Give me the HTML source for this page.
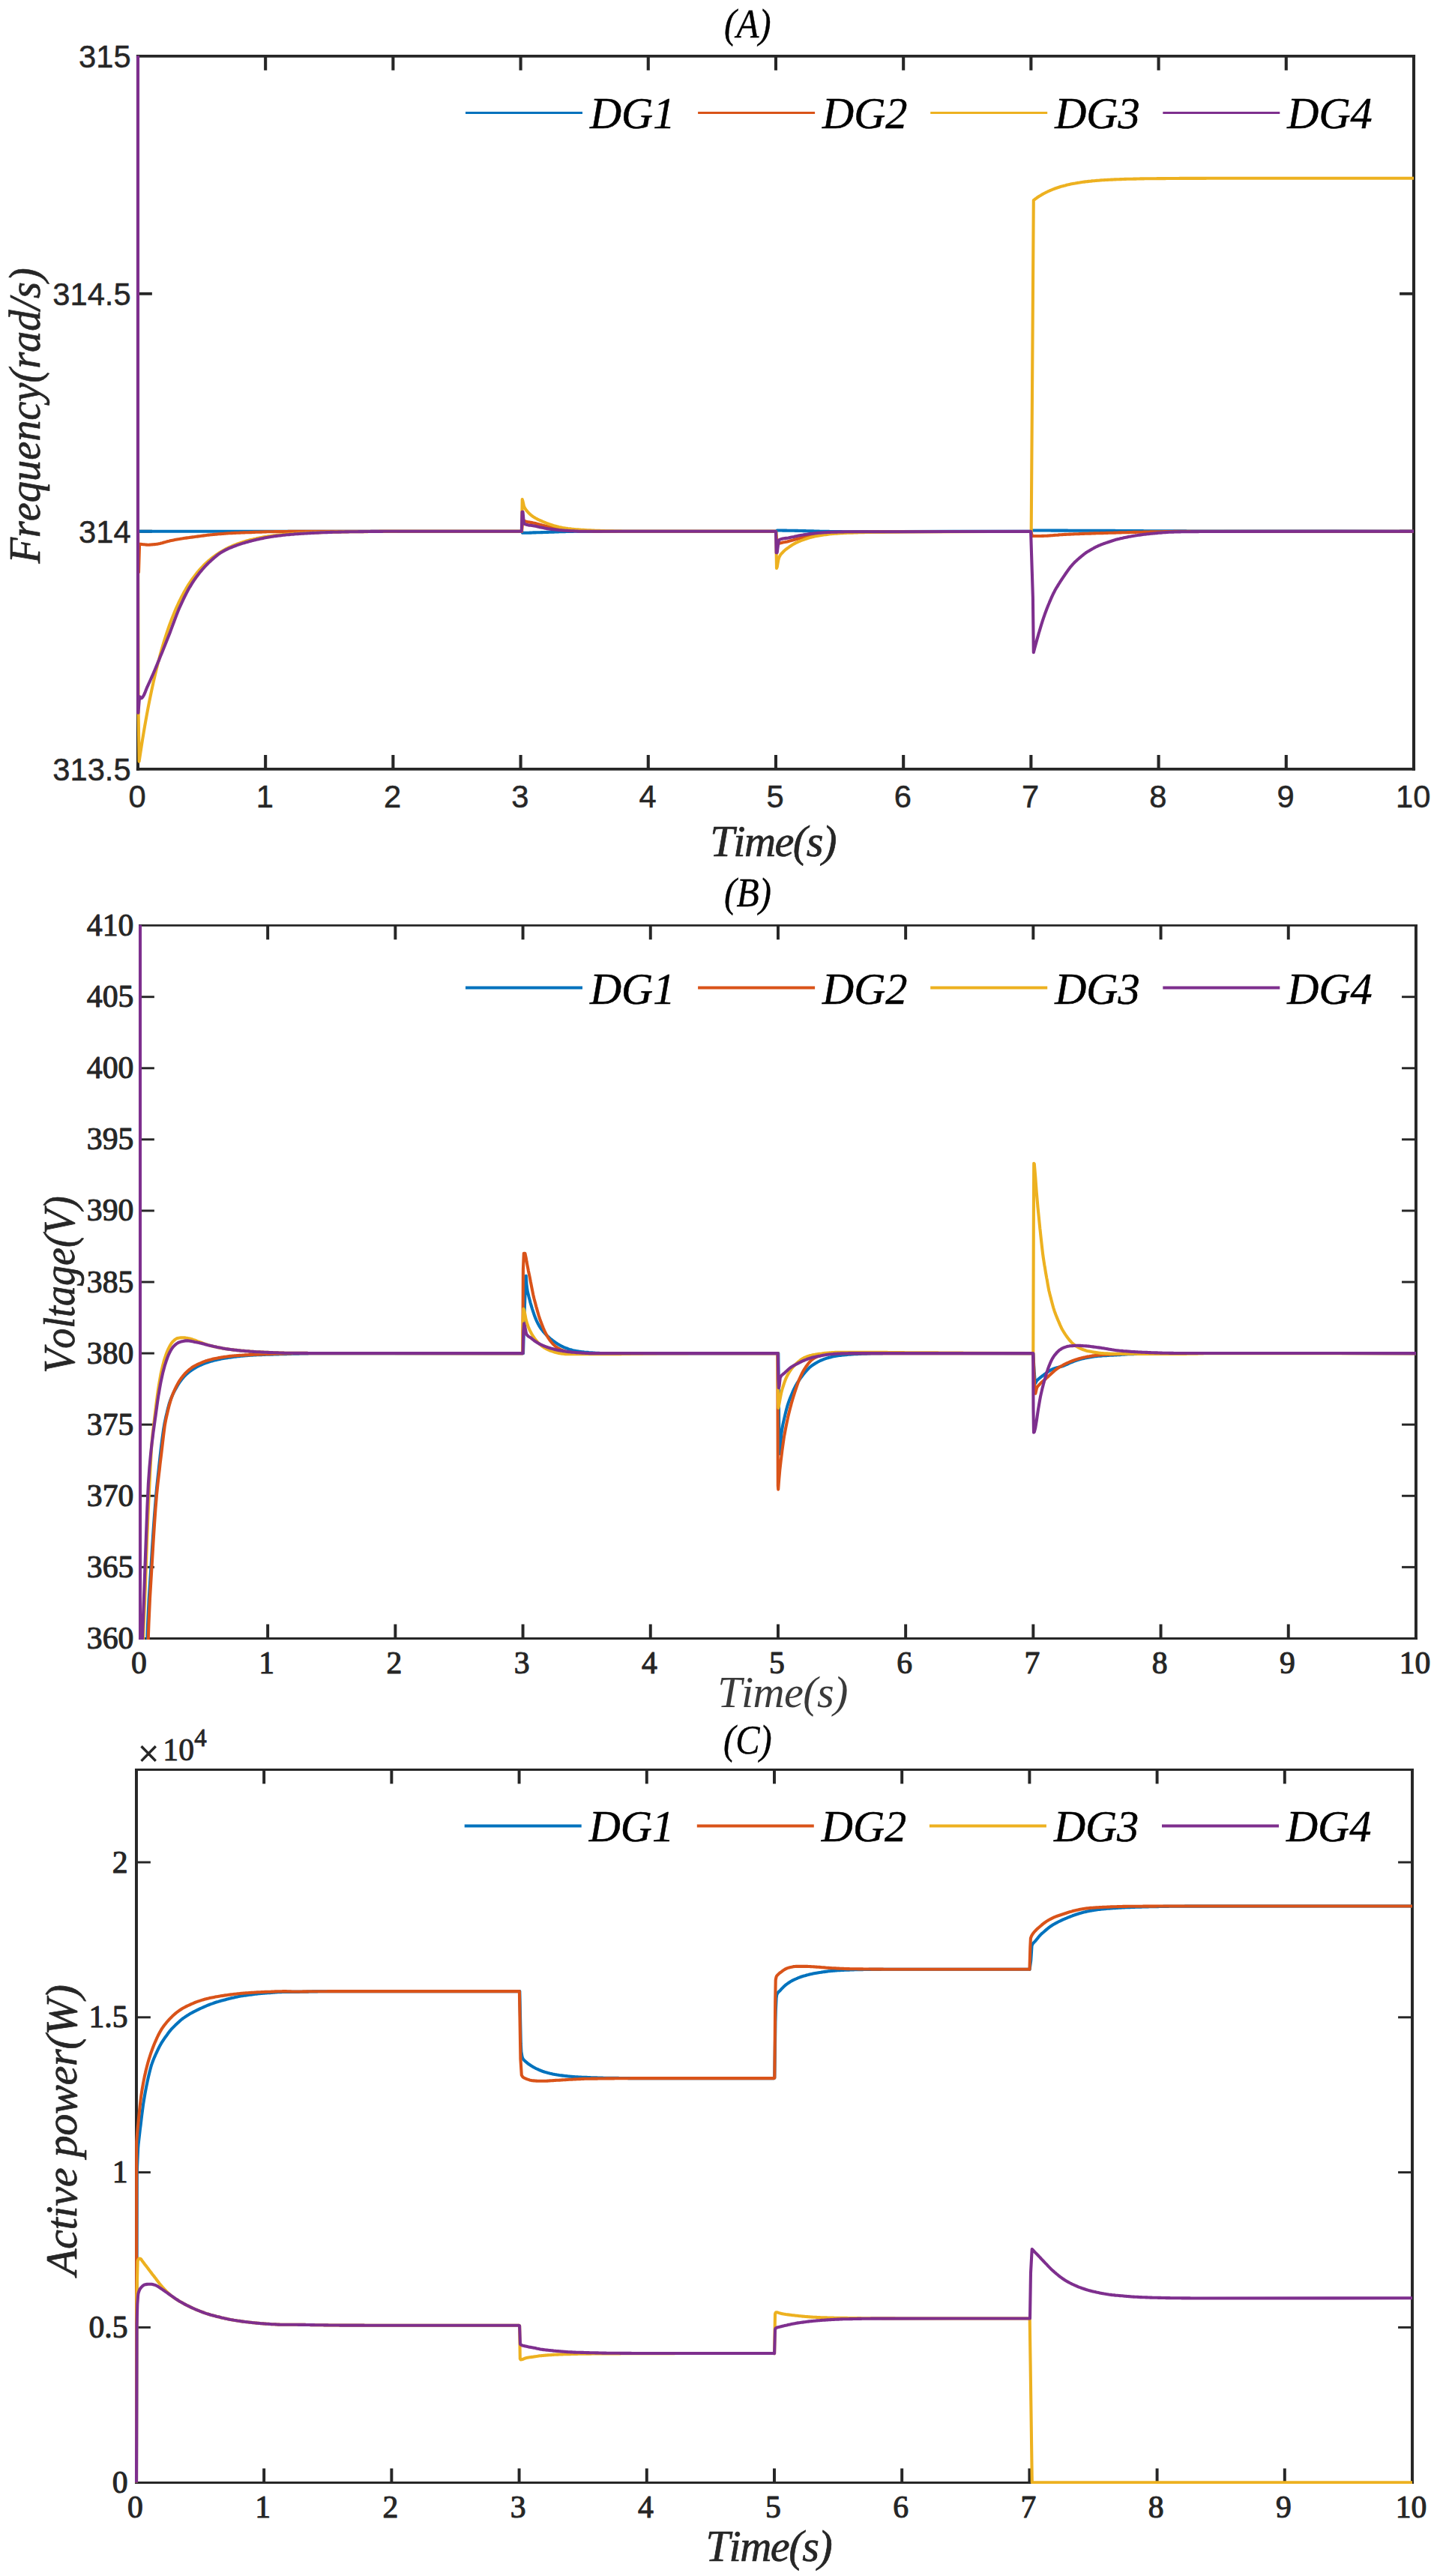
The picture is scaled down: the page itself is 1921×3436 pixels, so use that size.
<!DOCTYPE html>
<html><head><meta charset="utf-8"><title>Figure</title>
<style>html,body{margin:0;padding:0;background:#fff}svg{display:block}text{font-kerning:none}</style></head>
<body>
<svg width="1921" height="3436" viewBox="0 0 1921 3436">
<rect width="1921" height="3436" fill="#fff"/>
<defs>
<clipPath id="clipA"><rect x="181.9" y="74.3" width="1705.1" height="953.0"/></clipPath>
<clipPath id="clipB"><rect x="184.9" y="1233.8" width="1705.1" height="953.1"/></clipPath>
<clipPath id="clipC"><rect x="179.9" y="2359.8" width="1705.1" height="953.1"/></clipPath>
</defs>
<g stroke="#262626" stroke-width="4.1" fill="none"><line x1="354.16" y1="1025.87" x2="354.16" y2="1006.97"/><line x1="354.16" y1="74.90" x2="354.16" y2="93.80"/><line x1="524.37" y1="1025.87" x2="524.37" y2="1006.97"/><line x1="524.37" y1="74.90" x2="524.37" y2="93.80"/><line x1="694.57" y1="1025.87" x2="694.57" y2="1006.97"/><line x1="694.57" y1="74.90" x2="694.57" y2="93.80"/><line x1="864.77" y1="1025.87" x2="864.77" y2="1006.97"/><line x1="864.77" y1="74.90" x2="864.77" y2="93.80"/><line x1="1034.97" y1="1025.87" x2="1034.97" y2="1006.97"/><line x1="1034.97" y1="74.90" x2="1034.97" y2="93.80"/><line x1="1205.18" y1="1025.87" x2="1205.18" y2="1006.97"/><line x1="1205.18" y1="74.90" x2="1205.18" y2="93.80"/><line x1="1375.38" y1="1025.87" x2="1375.38" y2="1006.97"/><line x1="1375.38" y1="74.90" x2="1375.38" y2="93.80"/><line x1="1545.58" y1="1025.87" x2="1545.58" y2="1006.97"/><line x1="1545.58" y1="74.90" x2="1545.58" y2="93.80"/><line x1="1715.79" y1="1025.87" x2="1715.79" y2="1006.97"/><line x1="1715.79" y1="74.90" x2="1715.79" y2="93.80"/><line x1="183.96" y1="72.95" x2="183.96" y2="1027.82"/><line x1="1885.99" y1="72.95" x2="1885.99" y2="1027.82"/></g>
<g stroke="#262626" stroke-width="3.9" fill="none"><line x1="183.96" y1="391.80" x2="202.86" y2="391.80"/><line x1="1885.99" y1="391.80" x2="1867.09" y2="391.80"/><line x1="183.96" y1="708.70" x2="202.86" y2="708.70"/><line x1="1885.99" y1="708.70" x2="1867.09" y2="708.70"/><line x1="181.91" y1="74.90" x2="1888.04" y2="74.90"/><line x1="181.91" y1="1025.87" x2="1888.04" y2="1025.87"/></g>
<g font-family='"Liberation Sans", sans-serif' font-size="41.67" fill="#262626" stroke="#262626" stroke-width="0.5" stroke-linejoin="round"><text x="183.2" y="1076.5" text-anchor="middle">0</text><text x="353.4" y="1076.5" text-anchor="middle">1</text><text x="523.6" y="1076.5" text-anchor="middle">2</text><text x="693.8" y="1076.5" text-anchor="middle">3</text><text x="864.0" y="1076.5" text-anchor="middle">4</text><text x="1034.2" y="1076.5" text-anchor="middle">5</text><text x="1204.4" y="1076.5" text-anchor="middle">6</text><text x="1374.6" y="1076.5" text-anchor="middle">7</text><text x="1544.8" y="1076.5" text-anchor="middle">8</text><text x="1715.0" y="1076.5" text-anchor="middle">9</text><text x="1885.2" y="1076.5" text-anchor="middle">10</text><text x="174.6" y="89.9" text-anchor="end">315</text><text x="174.6" y="406.8" text-anchor="end">314.5</text><text x="174.6" y="723.7" text-anchor="end">314</text><text x="174.6" y="1040.6" text-anchor="end">313.5</text></g>
<g clip-path="url(#clipA)">
<path d="M184.0 708.7 L694.1 708.7 L696.2 708.8 L697.1 710.8 L697.8 710.8 L699.3 710.8 L700.8 710.8 L702.3 710.8 L703.8 710.7 L705.3 710.7 L706.9 710.6 L708.4 710.6 L709.9 710.5 L711.4 710.4 L712.5 710.4 L712.9 710.4 L714.4 710.4 L715.9 710.3 L717.5 710.3 L719.0 710.2 L720.5 710.2 L722.0 710.1 L723.5 710.1 L725.0 710.0 L726.5 710.0 L728.1 710.0 L729.6 709.9 L731.1 709.9 L732.6 709.8 L733.3 709.8 L734.1 709.8 L735.6 709.7 L737.1 709.7 L738.7 709.6 L740.2 709.5 L741.7 709.5 L743.2 709.4 L744.7 709.4 L746.2 709.3 L747.7 709.3 L749.3 709.2 L750.8 709.2 L752.3 709.1 L753.8 709.1 L755.3 709.0 L756.8 709.0 L758.3 709.0 L758.3 709.0 L759.9 708.9 L761.4 708.9 L762.9 708.9 L764.4 708.9 L765.9 708.8 L767.4 708.8 L768.9 708.8 L770.5 708.8 L772.0 708.8 L773.5 708.8 L775.0 708.8 L1034.5 708.7 L1035.4 709.2 L1036.7 707.5 L1036.9 707.5 L1038.4 707.5 L1039.9 707.5 L1041.4 707.5 L1042.9 707.5 L1044.4 707.6 L1045.9 707.6 L1047.4 707.6 L1048.9 707.6 L1050.4 707.7 L1051.9 707.7 L1052.5 707.7 L1053.4 707.7 L1054.9 707.7 L1056.4 707.8 L1057.9 707.8 L1059.4 707.8 L1060.9 707.9 L1062.4 707.9 L1063.9 707.9 L1065.4 708.0 L1066.9 708.0 L1068.4 708.0 L1069.9 708.0 L1071.4 708.1 L1072.9 708.1 L1073.3 708.1 L1074.4 708.1 L1075.9 708.2 L1077.4 708.2 L1078.9 708.3 L1080.4 708.3 L1081.9 708.3 L1083.4 708.4 L1084.9 708.4 L1086.4 708.5 L1087.9 708.5 L1089.4 708.6 L1090.9 708.6 L1092.4 708.6 L1093.9 708.7 L1095.4 708.7 L1096.9 708.8 L1098.4 708.8 L1099.9 708.8 L1101.4 708.9 L1102.9 708.9 L1104.4 708.9 L1105.9 708.9 L1106.7 709.0 L1107.4 709.0 L1108.9 709.0 L1110.4 709.0 L1111.9 709.0 L1113.4 709.1 L1114.9 709.1 L1116.4 709.1 L1117.9 709.1 L1119.4 709.1 L1120.9 709.1 L1122.4 709.1 L1123.9 709.2 L1125.4 709.2 L1374.9 708.7 L1375.6 708.6 L1376.7 707.5 L1377.1 707.5 L1378.6 707.5 L1380.1 707.5 L1381.6 707.5 L1383.1 707.5 L1384.6 707.5 L1386.1 707.5 L1387.6 707.5 L1389.1 707.5 L1390.6 707.5 L1392.1 707.5 L1393.6 707.5 L1395.2 707.5 L1396.7 707.5 L1398.2 707.5 L1399.7 707.5 L1401.2 707.5 L1402.7 707.6 L1404.2 707.6 L1405.7 707.6 L1407.2 707.6 L1408.7 707.6 L1410.2 707.6 L1411.7 707.6 L1413.2 707.6 L1414.7 707.6 L1416.3 707.6 L1417.8 707.6 L1419.3 707.6 L1420.8 707.6 L1422.3 707.6 L1423.8 707.6 L1425.3 707.7 L1426.8 707.7 L1428.3 707.7 L1429.8 707.7 L1431.3 707.7 L1432.8 707.7 L1434.3 707.7 L1435.9 707.7 L1437.4 707.7 L1438.9 707.7 L1440.4 707.7 L1441.9 707.7 L1443.4 707.7 L1444.9 707.8 L1446.4 707.8 L1447.9 707.8 L1449.4 707.8 L1450.9 707.8 L1451.1 707.8 L1452.4 707.8 L1453.9 707.8 L1455.4 707.8 L1457.0 707.8 L1458.5 707.8 L1460.0 707.8 L1461.5 707.8 L1463.0 707.8 L1464.5 707.8 L1466.0 707.8 L1467.5 707.9 L1469.0 707.9 L1470.5 707.9 L1472.0 707.9 L1473.5 707.9 L1475.0 707.9 L1476.6 707.9 L1478.1 707.9 L1479.6 707.9 L1481.1 707.9 L1482.6 707.9 L1484.1 707.9 L1485.6 707.9 L1487.1 707.9 L1488.6 708.0 L1490.1 708.0 L1491.6 708.0 L1493.1 708.0 L1494.6 708.0 L1496.2 708.0 L1497.7 708.0 L1499.2 708.0 L1500.7 708.0 L1502.2 708.0 L1503.7 708.0 L1505.2 708.0 L1506.7 708.0 L1508.2 708.1 L1509.7 708.1 L1511.2 708.1 L1512.7 708.1 L1514.2 708.1 L1515.7 708.1 L1517.3 708.1 L1518.8 708.1 L1520.3 708.1 L1521.8 708.1 L1523.3 708.1 L1524.8 708.1 L1526.3 708.2 L1527.8 708.2 L1529.3 708.2 L1530.8 708.2 L1532.3 708.2 L1533.8 708.2 L1534.4 708.2 L1535.3 708.2 L1536.9 708.2 L1538.4 708.2 L1539.9 708.2 L1541.4 708.2 L1542.9 708.2 L1544.4 708.2 L1545.9 708.3 L1547.4 708.3 L1548.9 708.3 L1550.4 708.3 L1551.9 708.3 L1553.4 708.3 L1554.9 708.3 L1556.4 708.3 L1558.0 708.3 L1559.5 708.3 L1561.0 708.3 L1562.5 708.3 L1564.0 708.3 L1565.5 708.4 L1567.0 708.4 L1568.5 708.4 L1570.0 708.4 L1571.5 708.4 L1573.0 708.4 L1574.5 708.4 L1576.0 708.4 L1577.6 708.4 L1579.1 708.4 L1580.6 708.4 L1582.1 708.4 L1583.6 708.5 L1585.1 708.5 L1586.6 708.5 L1588.1 708.5 L1589.6 708.5 L1591.1 708.5 L1592.6 708.5 L1594.1 708.5 L1595.6 708.5 L1597.1 708.5 L1598.7 708.5 L1600.2 708.5 L1601.7 708.6 L1603.2 708.6 L1604.7 708.6 L1606.2 708.6 L1607.7 708.6 L1609.2 708.6 L1610.7 708.6 L1612.2 708.6 L1886.0 708.7" fill="none" stroke="#0072BD" stroke-width="4.1" stroke-linejoin="round" />
<path d="M184.0 708.7 L184.5 763.0 L185.0 763.3 L186.1 725.8 L186.5 725.8 L188.0 725.9 L189.5 726.0 L191.0 726.2 L192.5 726.3 L194.0 726.5 L195.5 726.6 L197.0 726.7 L197.8 726.7 L198.5 726.7 L200.0 726.6 L201.5 726.5 L203.0 726.4 L204.5 726.3 L206.0 726.1 L207.5 726.0 L208.9 725.8 L209.0 725.8 L210.5 725.6 L212.0 725.3 L213.5 725.0 L215.0 724.6 L216.5 724.2 L218.0 723.7 L219.5 723.3 L221.0 722.9 L222.5 722.4 L224.0 722.0 L225.5 721.7 L225.6 721.7 L227.0 721.3 L228.5 721.0 L230.0 720.7 L231.5 720.4 L233.1 720.1 L234.6 719.8 L236.1 719.5 L237.6 719.2 L239.1 719.0 L239.4 718.9 L240.6 718.7 L242.1 718.5 L243.6 718.3 L245.1 718.0 L246.6 717.8 L248.1 717.6 L249.6 717.4 L251.1 717.2 L252.6 717.0 L253.3 716.9 L254.1 716.8 L255.6 716.6 L257.1 716.4 L258.6 716.2 L260.1 716.0 L261.6 715.8 L263.1 715.6 L264.6 715.4 L266.1 715.2 L267.6 715.0 L269.1 714.8 L270.6 714.6 L272.1 714.4 L273.6 714.2 L275.1 714.0 L276.6 713.8 L278.1 713.6 L279.6 713.5 L281.1 713.3 L281.1 713.3 L282.6 713.2 L284.1 713.0 L285.6 712.9 L287.1 712.8 L288.6 712.6 L290.1 712.5 L291.6 712.3 L293.1 712.2 L294.6 712.1 L296.1 712.0 L297.6 711.9 L299.1 711.7 L300.6 711.6 L302.1 711.5 L303.6 711.4 L305.1 711.3 L306.6 711.2 L308.1 711.2 L308.9 711.1 L309.6 711.1 L311.1 711.0 L312.6 710.9 L314.1 710.9 L315.6 710.8 L317.1 710.7 L318.6 710.7 L320.1 710.6 L321.6 710.5 L323.1 710.5 L324.6 710.4 L326.1 710.4 L327.7 710.3 L329.2 710.3 L330.7 710.2 L332.2 710.2 L333.7 710.1 L335.2 710.1 L336.7 710.0 L336.7 710.0 L338.2 709.9 L339.7 709.9 L341.2 709.8 L342.7 709.8 L344.2 709.7 L345.7 709.7 L347.2 709.6 L348.7 709.6 L350.2 709.5 L351.7 709.5 L353.2 709.4 L354.7 709.4 L356.2 709.3 L357.7 709.3 L359.2 709.3 L360.7 709.2 L362.2 709.2 L363.7 709.2 L364.4 709.2 L365.2 709.2 L366.7 709.1 L368.2 709.1 L369.7 709.1 L371.2 709.1 L372.7 709.1 L374.2 709.0 L375.7 709.0 L377.2 709.0 L378.7 709.0 L380.2 709.0 L381.7 709.0 L383.2 709.0 L384.7 708.9 L386.2 708.9 L387.7 708.9 L389.2 708.9 L390.7 708.9 L392.2 708.9 L392.2 708.9 L393.7 708.9 L395.2 708.9 L396.7 708.9 L398.2 708.9 L399.7 708.8 L401.2 708.8 L402.7 708.8 L404.2 708.8 L405.7 708.8 L407.2 708.8 L408.7 708.8 L410.2 708.8 L411.7 708.8 L413.2 708.8 L414.7 708.8 L416.2 708.8 L417.7 708.7 L419.2 708.7 L420.7 708.7 L422.3 708.7 L423.8 708.7 L425.3 708.7 L426.8 708.7 L428.3 708.7 L429.8 708.7 L431.3 708.7 L432.8 708.7 L434.3 708.7 L435.8 708.7 L437.3 708.7 L438.8 708.7 L440.3 708.7 L441.8 708.7 L443.3 708.7 L444.8 708.7 L446.3 708.7 L447.8 708.7 L694.1 708.7 L696.0 708.8 L697.5 693.1 L697.6 693.1 L699.0 694.6 L699.1 694.6 L700.6 695.2 L702.1 695.7 L703.6 696.1 L705.1 696.4 L706.6 696.6 L708.1 696.9 L709.6 697.1 L711.1 697.4 L712.5 697.7 L712.6 697.7 L714.2 698.1 L715.7 698.5 L717.2 698.9 L718.7 699.3 L720.2 699.7 L721.7 700.1 L722.9 700.4 L723.2 700.5 L724.7 700.9 L726.2 701.3 L727.7 701.7 L729.3 702.1 L730.8 702.5 L732.3 702.9 L733.3 703.1 L733.8 703.2 L735.3 703.5 L736.8 703.8 L738.3 704.1 L739.8 704.3 L741.3 704.6 L742.8 704.8 L743.8 705.0 L744.4 705.1 L745.9 705.4 L747.4 705.6 L748.9 705.9 L750.4 706.2 L751.9 706.4 L753.4 706.6 L754.2 706.7 L754.9 706.7 L756.4 706.9 L757.9 707.0 L759.4 707.2 L761.0 707.3 L762.5 707.4 L764.0 707.5 L765.5 707.6 L767.0 707.7 L768.5 707.8 L770.0 707.9 L771.5 708.0 L773.0 708.1 L774.5 708.1 L775.0 708.1 L776.1 708.2 L777.6 708.2 L779.1 708.3 L780.6 708.3 L782.1 708.3 L783.6 708.4 L785.1 708.4 L786.6 708.5 L788.1 708.5 L789.6 708.5 L791.2 708.6 L792.7 708.6 L794.2 708.6 L795.7 708.7 L797.2 708.7 L798.7 708.7 L800.2 708.7 L801.7 708.7 L803.2 708.7 L804.7 708.7 L806.2 708.7 L1034.5 708.7 L1035.2 709.2 L1036.7 726.2 L1036.7 726.2 L1038.2 725.4 L1039.0 725.0 L1039.7 724.7 L1041.3 724.3 L1042.8 723.9 L1044.3 723.5 L1045.8 723.2 L1047.3 723.0 L1048.8 722.7 L1050.3 722.4 L1051.9 722.0 L1052.5 721.9 L1053.4 721.6 L1054.9 721.2 L1056.4 720.8 L1057.9 720.4 L1059.4 719.9 L1060.9 719.5 L1062.5 719.1 L1062.9 719.0 L1064.0 718.7 L1065.5 718.3 L1067.0 717.9 L1068.5 717.5 L1070.0 717.1 L1071.5 716.7 L1073.1 716.3 L1073.3 716.2 L1074.6 715.9 L1076.1 715.6 L1077.6 715.2 L1079.1 714.8 L1080.6 714.4 L1082.1 714.1 L1083.6 713.8 L1083.8 713.8 L1085.2 713.5 L1086.7 713.2 L1088.2 712.9 L1089.7 712.7 L1091.2 712.5 L1092.7 712.3 L1094.2 712.1 L1094.2 712.1 L1095.8 711.9 L1097.3 711.7 L1098.8 711.6 L1100.3 711.4 L1101.8 711.3 L1103.3 711.2 L1104.8 711.0 L1106.4 710.9 L1107.9 710.8 L1109.4 710.7 L1110.9 710.6 L1112.4 710.5 L1113.9 710.5 L1115.0 710.4 L1115.4 710.4 L1117.0 710.4 L1118.5 710.3 L1120.0 710.3 L1121.5 710.2 L1123.0 710.2 L1124.5 710.1 L1126.0 710.1 L1127.5 710.1 L1129.1 710.0 L1130.6 710.0 L1132.1 709.9 L1133.6 709.9 L1135.1 709.9 L1136.6 709.8 L1138.1 709.8 L1139.7 709.8 L1141.2 709.7 L1142.7 709.7 L1144.2 709.7 L1145.7 709.7 L1147.2 709.6 L1148.7 709.6 L1150.3 709.6 L1151.8 709.6 L1153.3 709.5 L1154.8 709.5 L1156.3 709.5 L1157.8 709.5 L1159.3 709.5 L1160.8 709.5 L1162.4 709.4 L1163.9 709.4 L1165.4 709.4 L1166.9 709.4 L1168.4 709.4 L1169.9 709.4 L1171.4 709.4 L1173.0 709.4 L1174.5 709.4 L1176.0 709.4 L1177.5 709.4 L1374.9 708.7 L1375.3 708.6 L1376.8 714.5 L1377.2 715.0 L1378.3 715.0 L1379.8 715.0 L1381.3 715.0 L1382.8 715.0 L1384.3 715.0 L1385.8 715.0 L1385.8 715.0 L1387.3 715.0 L1388.8 715.0 L1390.3 714.9 L1391.8 714.9 L1393.3 714.8 L1394.8 714.8 L1396.3 714.7 L1397.8 714.6 L1399.3 714.5 L1400.8 714.4 L1402.3 714.3 L1403.8 714.2 L1405.3 714.0 L1406.8 713.9 L1408.3 713.8 L1409.8 713.7 L1411.3 713.6 L1412.8 713.4 L1414.3 713.3 L1415.8 713.2 L1417.3 713.1 L1418.8 713.0 L1420.3 712.9 L1421.8 712.9 L1423.3 712.8 L1423.3 712.8 L1424.8 712.7 L1426.3 712.6 L1427.8 712.6 L1429.3 712.5 L1430.8 712.5 L1432.3 712.4 L1433.8 712.3 L1435.3 712.3 L1436.8 712.2 L1438.3 712.2 L1439.8 712.1 L1441.3 712.0 L1442.8 712.0 L1444.3 711.9 L1445.9 711.9 L1447.4 711.8 L1448.9 711.8 L1450.4 711.7 L1451.9 711.7 L1453.4 711.6 L1454.9 711.6 L1456.4 711.5 L1457.9 711.5 L1459.4 711.4 L1460.9 711.4 L1462.4 711.3 L1463.9 711.3 L1465.4 711.2 L1466.9 711.2 L1468.4 711.1 L1469.9 711.1 L1471.4 711.1 L1472.9 711.0 L1474.4 711.0 L1475.9 710.9 L1477.4 710.9 L1478.9 710.8 L1478.9 710.8 L1480.4 710.8 L1481.9 710.7 L1483.4 710.7 L1484.9 710.7 L1486.4 710.6 L1487.9 710.6 L1489.4 710.5 L1490.9 710.5 L1492.4 710.4 L1493.9 710.4 L1495.4 710.4 L1496.9 710.3 L1498.4 710.3 L1499.9 710.2 L1501.4 710.2 L1502.9 710.2 L1504.4 710.1 L1505.9 710.1 L1507.4 710.0 L1508.9 710.0 L1510.4 710.0 L1511.9 709.9 L1513.4 709.9 L1514.9 709.9 L1516.4 709.8 L1517.9 709.8 L1519.4 709.8 L1520.9 709.7 L1522.4 709.7 L1523.9 709.7 L1525.4 709.6 L1526.9 709.6 L1528.4 709.6 L1529.9 709.5 L1531.4 709.5 L1532.9 709.5 L1534.4 709.4 L1534.4 709.4 L1535.9 709.4 L1537.4 709.4 L1538.9 709.4 L1540.4 709.3 L1542.0 709.3 L1543.5 709.3 L1545.0 709.3 L1546.5 709.2 L1548.0 709.2 L1549.5 709.2 L1551.0 709.2 L1552.5 709.1 L1554.0 709.1 L1555.5 709.1 L1557.0 709.1 L1558.5 709.0 L1560.0 709.0 L1561.5 709.0 L1563.0 709.0 L1564.5 709.0 L1566.0 708.9 L1567.5 708.9 L1569.0 708.9 L1570.5 708.9 L1572.0 708.9 L1573.5 708.8 L1575.0 708.8 L1576.5 708.8 L1578.0 708.8 L1579.5 708.8 L1581.0 708.8 L1582.5 708.7 L1584.0 708.7 L1585.5 708.7 L1587.0 708.7 L1588.5 708.7 L1590.0 708.7 L1886.0 708.7" fill="none" stroke="#D95319" stroke-width="4.1" stroke-linejoin="round" />
<path d="M184.0 708.7 L184.6 950.0 L185.6 1014.7 L185.6 1015.6 L187.1 1005.6 L188.6 995.9 L190.1 986.5 L191.6 977.4 L193.1 968.6 L194.6 960.1 L196.1 951.9 L197.6 943.9 L199.1 936.2 L200.6 928.8 L202.1 921.6 L203.6 914.6 L205.1 907.9 L206.6 901.4 L208.1 895.1 L209.6 889.0 L211.1 883.1 L212.6 877.4 L214.1 871.9 L215.6 866.5 L217.1 861.4 L218.6 856.4 L220.1 851.5 L221.6 846.9 L223.1 842.3 L224.6 838.0 L226.1 833.7 L227.6 829.6 L229.1 825.7 L230.6 821.9 L232.1 818.2 L233.6 814.6 L235.1 811.1 L236.6 807.8 L238.1 804.5 L239.6 801.4 L241.1 798.4 L242.6 795.4 L244.1 792.6 L245.6 789.8 L247.1 787.2 L248.6 784.6 L250.1 782.1 L251.6 779.7 L253.1 777.4 L254.6 775.2 L256.1 773.0 L257.6 770.9 L259.1 768.9 L260.6 766.9 L262.1 765.0 L263.6 763.1 L265.1 761.4 L266.6 759.6 L268.1 758.0 L269.6 756.4 L271.1 754.8 L272.6 753.3 L274.1 751.8 L275.6 750.4 L277.1 749.1 L278.6 747.7 L280.1 746.5 L281.6 745.2 L283.1 744.0 L284.6 742.9 L286.1 741.8 L287.6 740.7 L289.1 739.6 L290.6 738.6 L292.1 737.6 L293.6 736.7 L295.1 735.8 L296.6 734.9 L298.1 734.0 L299.6 733.2 L301.1 732.4 L302.6 731.6 L304.1 730.9 L305.6 730.2 L307.1 729.4 L308.6 728.8 L310.1 728.1 L311.6 727.5 L313.1 726.9 L314.6 726.3 L316.1 725.7 L317.6 725.1 L319.1 724.6 L320.6 724.1 L322.1 723.6 L323.6 723.1 L325.1 722.6 L326.6 722.2 L328.1 721.7 L329.6 721.3 L331.1 720.9 L332.6 720.5 L334.1 720.1 L335.6 719.7 L337.1 719.4 L338.6 719.0 L340.1 718.7 L341.6 718.4 L343.1 718.0 L344.6 717.7 L346.1 717.4 L347.6 717.2 L349.1 716.9 L350.6 716.6 L352.1 716.3 L353.6 716.1 L355.1 715.9 L356.6 715.6 L358.1 715.4 L359.6 715.2 L361.1 715.0 L362.6 714.8 L364.1 714.6 L365.6 714.4 L367.1 714.2 L368.6 714.0 L370.1 713.8 L371.6 713.7 L373.1 713.5 L374.6 713.3 L376.1 713.2 L377.6 713.0 L379.1 712.9 L380.6 712.8 L382.1 712.6 L383.6 712.5 L385.1 712.4 L386.6 712.3 L388.1 712.1 L389.6 712.0 L391.1 711.9 L392.6 711.8 L394.1 711.7 L395.6 711.6 L397.1 711.5 L398.6 711.4 L400.1 711.3 L401.6 711.3 L403.1 711.2 L404.6 711.1 L406.1 711.0 L407.6 710.9 L409.1 710.9 L410.6 710.8 L412.1 710.7 L413.6 710.7 L415.1 710.6 L416.6 710.5 L418.1 710.5 L419.6 710.4 L421.1 710.4 L422.6 710.3 L424.1 710.2 L425.6 710.2 L427.1 710.1 L428.6 710.1 L430.1 710.1 L431.6 710.0 L433.1 710.0 L434.6 709.9 L436.1 709.9 L437.6 709.8 L439.1 709.8 L440.6 709.8 L442.1 709.7 L443.6 709.7 L445.1 709.7 L446.6 709.6 L448.1 709.6 L449.6 709.6 L451.1 709.6 L452.6 709.5 L454.1 709.5 L455.6 709.5 L457.1 709.4 L458.6 709.4 L460.1 709.4 L461.6 709.4 L463.1 709.4 L464.6 709.3 L466.1 709.3 L467.6 709.3 L469.1 709.3 L470.6 709.3 L472.1 709.2 L473.6 709.2 L475.1 709.2 L476.6 709.2 L478.1 709.2 L479.6 709.2 L481.1 709.1 L482.6 709.1 L484.1 709.1 L485.6 709.1 L487.1 709.1 L488.6 709.1 L490.1 709.1 L491.6 709.0 L493.1 709.0 L494.6 709.0 L496.1 709.0 L497.6 709.0 L499.1 709.0 L500.6 709.0 L502.1 709.0 L503.6 709.0 L505.1 709.0 L506.6 708.9 L508.1 708.9 L509.6 708.9 L511.1 708.9 L512.6 708.9 L514.1 708.9 L515.6 708.9 L517.1 708.9 L518.6 708.9 L520.1 708.9 L521.6 708.9 L523.1 708.9 L524.6 708.9 L526.1 708.9 L527.6 708.9 L529.1 708.9 L530.6 708.8 L532.1 708.8 L533.6 708.8 L535.1 708.8 L536.6 708.8 L538.1 708.8 L539.6 708.8 L541.1 708.8 L542.6 708.8 L544.1 708.8 L545.6 708.8 L547.1 708.8 L548.6 708.8 L550.1 708.8 L551.6 708.8 L553.1 708.8 L554.6 708.8 L556.1 708.8 L557.6 708.8 L559.1 708.8 L560.6 708.8 L562.1 708.8 L563.6 708.8 L565.1 708.8 L566.6 708.8 L568.1 708.8 L569.6 708.8 L571.1 708.8 L572.6 708.8 L574.1 708.8 L575.6 708.8 L577.1 708.8 L578.6 708.8 L580.1 708.7 L581.6 708.7 L583.1 708.7 L584.6 708.7 L586.1 708.7 L587.6 708.7 L589.1 708.7 L590.6 708.7 L592.1 708.7 L593.6 708.7 L595.1 708.7 L596.6 708.7 L598.1 708.7 L599.6 708.7 L601.1 708.7 L602.6 708.7 L604.1 708.7 L605.6 708.7 L607.1 708.7 L608.6 708.7 L610.1 708.7 L611.6 708.7 L613.1 708.7 L614.6 708.7 L616.1 708.7 L617.6 708.7 L619.1 708.7 L620.6 708.7 L622.1 708.7 L623.6 708.7 L625.1 708.7 L626.6 708.7 L628.1 708.7 L629.6 708.7 L631.1 708.7 L632.6 708.7 L634.1 708.7 L635.6 708.7 L637.1 708.7 L638.6 708.7 L640.1 708.7 L641.6 708.7 L643.1 708.7 L644.6 708.7 L646.1 708.7 L647.6 708.7 L649.1 708.7 L650.6 708.7 L652.1 708.7 L653.6 708.7 L655.1 708.7 L656.6 708.7 L658.1 708.7 L659.6 708.7 L661.1 708.7 L662.6 708.7 L664.1 708.7 L665.6 708.7 L667.1 708.7 L668.6 708.7 L670.1 708.7 L671.6 708.7 L673.1 708.7 L674.6 708.7 L676.1 708.7 L677.6 708.7 L679.1 708.7 L680.6 708.7 L682.1 708.7 L683.6 708.7 L685.1 708.7 L686.6 708.7 L688.1 708.7 L689.6 708.7 L691.1 708.7 L692.6 708.7 L694.1 708.7 L696.0 708.8 L696.7 666.0 L697.5 668.6 L699.0 675.4 L699.1 675.6 L700.6 678.5 L702.1 680.6 L702.1 680.6 L703.6 682.4 L705.1 684.0 L706.6 685.4 L708.1 686.8 L709.6 688.0 L711.1 689.1 L712.5 690.0 L712.6 690.1 L714.1 691.0 L715.6 691.8 L717.1 692.6 L718.6 693.3 L720.1 694.0 L721.6 694.6 L722.9 695.2 L723.1 695.3 L724.6 696.0 L726.1 696.6 L727.6 697.2 L729.1 697.8 L730.7 698.4 L732.2 699.0 L733.3 699.4 L733.7 699.5 L735.2 700.0 L736.7 700.5 L738.2 701.0 L739.7 701.4 L741.2 701.8 L742.7 702.2 L743.8 702.5 L744.2 702.6 L745.7 703.0 L747.2 703.3 L748.7 703.6 L750.2 703.9 L751.7 704.2 L753.2 704.4 L754.2 704.6 L754.7 704.7 L756.2 704.9 L757.7 705.1 L759.2 705.2 L760.8 705.4 L762.3 705.6 L763.8 705.7 L765.3 705.9 L766.8 706.0 L768.3 706.2 L769.8 706.3 L771.3 706.4 L772.8 706.5 L774.3 706.6 L775.0 706.7 L775.8 706.7 L777.3 706.8 L778.8 706.9 L780.3 707.0 L781.8 707.1 L783.3 707.2 L784.8 707.3 L786.3 707.3 L787.8 707.4 L789.3 707.5 L790.8 707.6 L792.4 707.6 L793.9 707.7 L795.4 707.7 L796.9 707.8 L798.4 707.9 L799.9 707.9 L801.4 708.0 L802.9 708.0 L804.4 708.1 L805.9 708.1 L806.2 708.1 L807.4 708.2 L808.9 708.2 L810.4 708.2 L811.9 708.3 L813.4 708.3 L814.9 708.4 L816.4 708.4 L817.9 708.4 L819.4 708.5 L820.9 708.5 L822.5 708.5 L824.0 708.6 L825.5 708.6 L827.0 708.6 L828.5 708.6 L830.0 708.7 L831.5 708.7 L833.0 708.7 L834.5 708.7 L836.0 708.7 L837.5 708.8 L1034.5 708.7 L1035.2 709.2 L1036.0 757.9 L1036.7 756.4 L1038.2 747.5 L1039.0 744.4 L1039.7 742.7 L1041.2 740.1 L1042.7 738.2 L1044.2 736.7 L1044.3 736.6 L1045.8 735.0 L1047.3 733.7 L1048.8 732.5 L1050.3 731.4 L1051.8 730.3 L1052.5 729.8 L1053.3 729.2 L1054.8 728.2 L1056.3 727.2 L1057.8 726.3 L1059.3 725.4 L1060.8 724.6 L1062.3 723.8 L1062.9 723.5 L1063.9 723.1 L1065.4 722.4 L1066.9 721.8 L1068.4 721.2 L1069.9 720.6 L1071.4 720.1 L1072.9 719.5 L1073.3 719.4 L1074.4 719.0 L1075.9 718.5 L1077.4 718.0 L1078.9 717.6 L1080.4 717.1 L1082.0 716.7 L1083.5 716.3 L1083.8 716.2 L1085.0 716.0 L1086.5 715.6 L1088.0 715.3 L1089.5 715.0 L1091.0 714.7 L1092.5 714.4 L1094.0 714.2 L1094.2 714.2 L1095.5 714.0 L1097.0 713.7 L1098.5 713.5 L1100.0 713.3 L1101.6 713.1 L1103.1 712.9 L1104.6 712.7 L1106.1 712.5 L1107.6 712.3 L1109.1 712.2 L1110.6 712.0 L1112.1 711.9 L1113.6 711.8 L1115.0 711.7 L1115.1 711.7 L1116.6 711.6 L1118.1 711.5 L1119.6 711.4 L1121.2 711.3 L1122.7 711.2 L1124.2 711.1 L1125.7 711.0 L1127.2 711.0 L1128.7 710.9 L1130.2 710.8 L1131.7 710.8 L1133.2 710.7 L1134.7 710.7 L1135.8 710.6 L1136.2 710.6 L1137.7 710.6 L1139.3 710.5 L1140.8 710.5 L1142.3 710.4 L1143.8 710.4 L1145.3 710.3 L1146.8 710.3 L1148.3 710.2 L1149.8 710.2 L1151.3 710.1 L1152.8 710.1 L1154.3 710.0 L1155.8 710.0 L1157.3 710.0 L1158.9 709.9 L1160.4 709.9 L1161.9 709.9 L1163.4 709.8 L1164.9 709.8 L1166.4 709.8 L1167.9 709.7 L1169.4 709.7 L1170.9 709.7 L1172.4 709.7 L1173.9 709.6 L1175.4 709.6 L1176.9 709.6 L1177.5 709.6 L1178.5 709.6 L1180.0 709.6 L1181.5 709.5 L1183.0 709.5 L1184.5 709.5 L1186.0 709.5 L1187.5 709.5 L1189.0 709.5 L1190.5 709.4 L1192.0 709.4 L1193.5 709.4 L1195.0 709.4 L1196.5 709.4 L1198.1 709.4 L1199.6 709.4 L1201.1 709.3 L1202.6 709.3 L1204.1 709.3 L1205.6 709.3 L1207.1 709.3 L1208.6 709.3 L1210.1 709.3 L1211.6 709.3 L1213.1 709.3 L1214.6 709.3 L1216.2 709.3 L1217.7 709.3 L1219.2 709.3 L1375.1 708.7 L1375.7 708.7 L1378.8 267.2 L1378.8 267.2 L1380.3 266.0 L1381.8 264.9 L1383.3 263.8 L1384.8 262.8 L1386.3 261.8 L1387.8 260.9 L1389.3 260.0 L1390.8 259.1 L1392.3 258.3 L1393.8 257.5 L1395.3 256.7 L1396.8 256.0 L1398.3 255.2 L1399.8 254.6 L1401.3 253.9 L1402.8 253.3 L1404.3 252.7 L1405.8 252.1 L1407.3 251.5 L1408.8 251.0 L1410.3 250.5 L1411.8 250.0 L1413.3 249.5 L1414.8 249.0 L1416.3 248.6 L1417.8 248.2 L1419.3 247.7 L1420.8 247.4 L1422.3 247.0 L1423.8 246.6 L1425.3 246.3 L1426.8 245.9 L1428.3 245.6 L1429.8 245.3 L1431.3 245.0 L1432.8 244.7 L1434.3 244.5 L1435.8 244.2 L1437.3 243.9 L1438.8 243.7 L1440.3 243.5 L1441.8 243.2 L1443.3 243.0 L1444.8 242.8 L1446.3 242.6 L1447.8 242.4 L1449.3 242.3 L1450.8 242.1 L1452.3 241.9 L1453.8 241.7 L1455.3 241.6 L1456.8 241.4 L1458.3 241.3 L1459.8 241.2 L1461.3 241.0 L1462.8 240.9 L1464.3 240.8 L1465.8 240.7 L1467.3 240.5 L1468.8 240.4 L1470.3 240.3 L1471.8 240.2 L1473.3 240.1 L1474.8 240.0 L1476.3 240.0 L1477.8 239.9 L1479.3 239.8 L1480.8 239.7 L1482.3 239.6 L1483.8 239.6 L1485.3 239.5 L1486.8 239.4 L1488.3 239.4 L1489.8 239.3 L1491.3 239.2 L1492.8 239.2 L1494.3 239.1 L1495.8 239.1 L1497.3 239.0 L1498.8 239.0 L1500.3 238.9 L1501.8 238.9 L1503.3 238.8 L1504.8 238.8 L1506.3 238.8 L1507.8 238.7 L1509.3 238.7 L1510.8 238.7 L1512.3 238.6 L1513.8 238.6 L1515.3 238.6 L1516.8 238.5 L1518.3 238.5 L1519.8 238.5 L1521.3 238.4 L1522.8 238.4 L1524.3 238.4 L1525.8 238.4 L1527.3 238.3 L1528.8 238.3 L1530.3 238.3 L1531.8 238.3 L1533.3 238.3 L1534.8 238.2 L1536.3 238.2 L1537.8 238.2 L1539.3 238.2 L1540.9 238.2 L1542.4 238.2 L1543.9 238.1 L1545.4 238.1 L1546.9 238.1 L1548.4 238.1 L1549.9 238.1 L1551.4 238.1 L1552.9 238.1 L1554.4 238.1 L1555.9 238.0 L1557.4 238.0 L1558.9 238.0 L1560.4 238.0 L1561.9 238.0 L1563.4 238.0 L1564.9 238.0 L1566.4 238.0 L1567.9 238.0 L1569.4 238.0 L1570.9 238.0 L1572.4 238.0 L1573.9 237.9 L1575.4 237.9 L1576.9 237.9 L1578.4 237.9 L1579.9 237.9 L1581.4 237.9 L1582.9 237.9 L1584.4 237.9 L1585.9 237.9 L1587.4 237.9 L1588.9 237.9 L1590.4 237.9 L1591.9 237.9 L1593.4 237.9 L1594.9 237.9 L1596.4 237.9 L1597.9 237.9 L1599.4 237.9 L1600.9 237.9 L1602.4 237.9 L1603.9 237.9 L1605.4 237.9 L1606.9 237.9 L1608.4 237.9 L1609.9 237.8 L1611.4 237.8 L1612.9 237.8 L1614.4 237.8 L1615.9 237.8 L1617.4 237.8 L1618.9 237.8 L1620.4 237.8 L1621.9 237.8 L1623.4 237.8 L1624.9 237.8 L1626.4 237.8 L1627.9 237.8 L1629.4 237.8 L1630.9 237.8 L1632.4 237.8 L1633.9 237.8 L1635.4 237.8 L1636.9 237.8 L1638.4 237.8 L1639.9 237.8 L1641.4 237.8 L1642.9 237.8 L1644.4 237.8 L1645.9 237.8 L1647.4 237.8 L1648.9 237.8 L1650.4 237.8 L1651.9 237.8 L1653.4 237.8 L1654.9 237.8 L1656.4 237.8 L1657.9 237.8 L1659.4 237.8 L1660.9 237.8 L1662.4 237.8 L1663.9 237.8 L1665.4 237.8 L1666.9 237.8 L1668.4 237.8 L1669.9 237.8 L1671.4 237.8 L1672.9 237.8 L1674.4 237.8 L1675.9 237.8 L1677.4 237.8 L1678.9 237.8 L1680.4 237.8 L1681.9 237.8 L1683.4 237.8 L1684.9 237.8 L1686.4 237.8 L1687.9 237.8 L1689.4 237.8 L1690.9 237.8 L1692.4 237.8 L1693.9 237.8 L1695.4 237.8 L1696.9 237.8 L1698.4 237.8 L1699.9 237.8 L1701.4 237.8 L1702.9 237.8 L1704.4 237.8 L1705.9 237.8 L1707.4 237.8 L1708.9 237.8 L1710.4 237.8 L1711.9 237.8 L1713.4 237.8 L1714.9 237.8 L1716.4 237.8 L1717.9 237.8 L1719.4 237.8 L1720.9 237.8 L1722.4 237.8 L1723.9 237.8 L1725.4 237.8 L1726.9 237.8 L1728.4 237.8 L1729.9 237.8 L1731.4 237.8 L1732.9 237.8 L1734.4 237.8 L1735.9 237.8 L1737.4 237.8 L1738.9 237.8 L1740.4 237.8 L1741.9 237.8 L1743.4 237.8 L1744.9 237.8 L1746.4 237.8 L1747.9 237.8 L1749.4 237.8 L1750.9 237.8 L1752.4 237.8 L1753.9 237.8 L1755.4 237.8 L1756.9 237.8 L1758.4 237.8 L1759.9 237.8 L1761.4 237.8 L1762.9 237.8 L1764.4 237.8 L1765.9 237.8 L1767.4 237.8 L1768.9 237.8 L1770.4 237.8 L1771.9 237.8 L1773.4 237.8 L1774.9 237.8 L1776.4 237.8 L1777.9 237.8 L1779.4 237.8 L1780.9 237.8 L1782.4 237.8 L1783.9 237.8 L1785.4 237.8 L1786.9 237.8 L1788.5 237.8 L1790.0 237.8 L1791.5 237.8 L1793.0 237.8 L1794.5 237.8 L1796.0 237.8 L1797.5 237.8 L1799.0 237.8 L1800.5 237.8 L1802.0 237.8 L1803.5 237.8 L1805.0 237.8 L1806.5 237.8 L1808.0 237.8 L1809.5 237.8 L1811.0 237.8 L1812.5 237.8 L1814.0 237.8 L1815.5 237.8 L1817.0 237.8 L1818.5 237.8 L1820.0 237.8 L1821.5 237.8 L1823.0 237.8 L1824.5 237.8 L1826.0 237.8 L1827.5 237.8 L1829.0 237.8 L1830.5 237.8 L1832.0 237.8 L1833.5 237.8 L1835.0 237.8 L1836.5 237.8 L1838.0 237.8 L1839.5 237.8 L1841.0 237.8 L1842.5 237.8 L1844.0 237.8 L1845.5 237.8 L1847.0 237.8 L1848.5 237.8 L1850.0 237.8 L1851.5 237.8 L1853.0 237.8 L1854.5 237.8 L1856.0 237.8 L1857.5 237.8 L1859.0 237.8 L1860.5 237.8 L1862.0 237.8 L1863.5 237.8 L1865.0 237.8 L1866.5 237.8 L1868.0 237.8 L1869.5 237.8 L1871.0 237.8 L1872.5 237.8 L1874.0 237.8 L1875.5 237.8 L1877.0 237.8 L1878.5 237.8 L1880.0 237.8 L1881.5 237.8 L1883.0 237.8 L1884.5 237.8 L1886.0 237.8" fill="none" stroke="#EDB120" stroke-width="4.1" stroke-linejoin="round" />
<path d="M184.0 40.0 L184.0 950.8 L184.4 950.8 L185.9 932.2 L186.7 929.4 L187.4 930.3 L188.3 931.4 L188.9 931.2 L190.4 929.8 L191.9 927.3 L193.4 923.9 L194.9 920.1 L196.4 916.3 L197.8 913.3 L197.9 913.0 L199.4 909.8 L200.9 906.5 L202.4 903.2 L203.9 899.7 L205.4 896.2 L206.9 892.7 L208.4 889.1 L209.9 885.5 L211.4 881.9 L211.7 881.4 L212.9 878.3 L214.4 874.6 L215.9 870.9 L217.4 867.2 L218.9 863.4 L220.4 859.7 L221.9 855.9 L223.5 852.0 L225.0 848.2 L225.6 846.7 L226.5 844.4 L228.0 840.4 L229.5 836.4 L231.0 832.3 L232.5 828.2 L234.0 824.2 L235.5 820.3 L237.0 816.5 L238.5 812.8 L239.4 810.6 L240.0 809.4 L241.5 806.1 L243.0 802.8 L244.5 799.6 L246.0 796.5 L247.5 793.5 L249.0 790.6 L250.5 787.8 L252.0 785.1 L253.3 782.8 L253.5 782.6 L255.0 780.1 L256.5 777.7 L258.0 775.4 L259.5 773.2 L261.0 771.0 L262.5 768.9 L264.0 766.9 L265.5 765.0 L267.0 763.1 L267.2 762.8 L268.5 761.3 L270.0 759.5 L271.5 757.8 L273.0 756.2 L274.5 754.6 L276.0 753.0 L277.5 751.5 L279.0 750.1 L280.5 748.7 L281.1 748.1 L282.0 747.3 L283.5 745.9 L285.0 744.6 L286.5 743.3 L288.0 742.1 L289.5 740.9 L291.0 739.7 L292.5 738.6 L294.0 737.6 L295.0 736.9 L295.5 736.7 L297.0 735.8 L298.5 734.9 L300.0 734.1 L301.5 733.3 L303.0 732.6 L304.5 731.9 L306.0 731.2 L307.5 730.6 L308.9 730.0 L309.0 730.0 L310.5 729.4 L312.0 728.8 L313.5 728.2 L315.0 727.7 L316.5 727.1 L318.0 726.6 L319.5 726.1 L321.0 725.6 L322.5 725.1 L324.0 724.6 L325.5 724.2 L327.0 723.7 L328.5 723.3 L330.0 722.9 L331.5 722.5 L333.0 722.1 L334.5 721.7 L336.0 721.3 L336.7 721.1 L337.5 720.9 L339.0 720.6 L340.5 720.2 L342.0 719.8 L343.5 719.5 L345.0 719.2 L346.5 718.8 L348.0 718.5 L349.5 718.2 L351.0 717.9 L352.5 717.6 L354.0 717.3 L355.5 717.0 L357.0 716.8 L358.5 716.5 L360.0 716.2 L361.5 716.0 L363.0 715.8 L364.4 715.6 L364.5 715.6 L366.0 715.3 L367.5 715.1 L369.0 714.9 L370.5 714.7 L372.0 714.5 L373.5 714.4 L375.0 714.2 L376.5 714.0 L378.0 713.8 L379.5 713.7 L381.0 713.5 L382.5 713.3 L384.0 713.2 L385.5 713.1 L387.0 712.9 L388.5 712.8 L390.0 712.7 L391.5 712.6 L392.2 712.5 L393.0 712.4 L394.5 712.3 L396.0 712.2 L397.5 712.1 L399.0 712.0 L400.5 711.9 L402.0 711.8 L403.5 711.7 L405.0 711.6 L406.5 711.5 L408.0 711.5 L409.5 711.4 L411.0 711.3 L412.5 711.2 L414.0 711.1 L415.5 711.0 L417.0 710.9 L418.5 710.9 L420.0 710.8 L421.5 710.7 L423.0 710.6 L424.5 710.6 L426.0 710.5 L427.5 710.4 L429.0 710.3 L430.5 710.3 L432.0 710.2 L433.5 710.2 L435.0 710.1 L436.5 710.1 L438.0 710.0 L439.5 710.0 L441.0 709.9 L442.5 709.9 L444.0 709.8 L445.5 709.8 L447.0 709.7 L447.8 709.7 L448.5 709.7 L450.0 709.7 L451.5 709.6 L453.0 709.6 L454.5 709.6 L456.0 709.5 L457.5 709.5 L459.0 709.5 L460.5 709.4 L462.0 709.4 L463.5 709.4 L465.0 709.4 L466.5 709.3 L468.0 709.3 L469.5 709.3 L471.0 709.3 L472.5 709.2 L474.0 709.2 L475.5 709.2 L477.0 709.2 L478.5 709.1 L480.0 709.1 L481.5 709.1 L483.0 709.1 L484.5 709.1 L486.0 709.0 L487.5 709.0 L489.0 709.0 L490.5 709.0 L492.0 709.0 L493.5 709.0 L495.0 708.9 L496.5 708.9 L498.0 708.9 L499.5 708.9 L501.0 708.9 L502.5 708.9 L503.3 708.9 L504.0 708.9 L505.5 708.9 L507.0 708.9 L508.5 708.9 L510.0 708.9 L511.5 708.8 L513.0 708.8 L514.5 708.8 L516.0 708.8 L517.5 708.8 L519.0 708.8 L520.5 708.8 L522.0 708.8 L523.5 708.8 L525.0 708.8 L526.5 708.8 L528.0 708.8 L529.5 708.8 L531.0 708.8 L532.5 708.7 L534.0 708.7 L535.5 708.7 L537.0 708.7 L538.5 708.7 L540.0 708.7 L541.5 708.7 L543.0 708.7 L544.5 708.7 L546.0 708.7 L547.5 708.7 L549.0 708.7 L550.5 708.7 L552.0 708.7 L553.5 708.7 L555.0 708.7 L556.5 708.7 L558.0 708.7 L559.5 708.7 L561.0 708.7 L562.5 708.7 L564.0 708.7 L565.5 708.7 L567.0 708.7 L568.5 708.7 L570.0 708.7 L694.1 708.7 L695.8 708.8 L696.5 682.7 L697.4 682.7 L697.5 682.7 L698.9 698.2 L699.0 698.3 L700.4 699.1 L701.9 699.7 L703.4 700.1 L705.0 700.4 L706.5 700.7 L708.0 700.8 L709.5 701.0 L711.1 701.2 L712.5 701.5 L712.6 701.5 L714.1 701.8 L715.6 702.1 L717.1 702.5 L718.7 702.8 L720.2 703.2 L721.7 703.5 L723.2 703.8 L724.8 704.1 L726.3 704.4 L727.8 704.7 L729.3 705.0 L730.8 705.3 L732.4 705.5 L733.3 705.6 L733.9 705.7 L735.4 705.9 L736.9 706.1 L738.5 706.3 L740.0 706.4 L741.5 706.6 L743.0 706.8 L744.6 706.9 L746.1 707.1 L747.6 707.2 L749.1 707.3 L750.6 707.5 L752.2 707.6 L753.7 707.7 L754.2 707.7 L755.2 707.8 L756.7 707.9 L758.3 708.0 L759.8 708.1 L761.3 708.2 L762.8 708.2 L764.3 708.3 L765.9 708.4 L767.4 708.5 L768.9 708.5 L770.4 708.6 L772.0 708.7 L773.5 708.7 L775.0 708.8 L1034.5 708.7 L1035.0 709.2 L1035.6 737.1 L1036.5 737.1 L1036.7 737.1 L1038.0 726.8 L1039.0 720.4 L1039.5 720.1 L1041.0 719.4 L1042.5 718.9 L1044.0 718.5 L1045.5 718.3 L1047.0 718.1 L1048.5 717.9 L1050.0 717.7 L1051.6 717.5 L1052.5 717.3 L1053.1 717.2 L1054.6 716.8 L1056.1 716.5 L1057.6 716.2 L1059.1 715.9 L1060.6 715.5 L1062.1 715.2 L1063.6 714.9 L1065.1 714.6 L1066.6 714.3 L1068.1 714.0 L1069.6 713.7 L1071.1 713.5 L1072.6 713.2 L1073.3 713.1 L1074.1 713.0 L1075.6 712.8 L1077.1 712.6 L1078.6 712.3 L1080.1 712.1 L1081.7 711.9 L1083.2 711.7 L1084.7 711.6 L1086.2 711.4 L1087.7 711.2 L1089.2 711.1 L1090.7 710.9 L1092.2 710.8 L1093.7 710.7 L1094.2 710.6 L1095.2 710.6 L1096.7 710.5 L1098.2 710.4 L1099.7 710.3 L1101.2 710.2 L1102.7 710.1 L1104.2 710.0 L1105.7 709.9 L1107.2 709.9 L1108.7 709.8 L1110.2 709.7 L1111.8 709.7 L1113.3 709.6 L1114.8 709.6 L1115.0 709.6 L1116.3 709.6 L1117.8 709.5 L1119.3 709.5 L1120.8 709.5 L1122.3 709.4 L1123.8 709.4 L1125.3 709.4 L1126.8 709.3 L1128.3 709.3 L1129.8 709.3 L1131.3 709.3 L1132.8 709.3 L1134.3 709.3 L1135.8 709.3 L1375.1 708.7 L1377.9 797.2 L1378.8 870.3 L1380.3 864.5 L1381.8 858.9 L1383.3 853.4 L1384.8 848.1 L1385.8 844.4 L1386.3 842.9 L1387.8 837.9 L1389.3 832.9 L1390.8 828.2 L1392.3 823.6 L1392.8 822.2 L1393.8 819.3 L1395.3 815.3 L1396.8 811.3 L1398.3 807.6 L1399.7 804.2 L1399.8 803.9 L1401.3 800.4 L1402.8 796.9 L1404.3 793.6 L1405.8 790.5 L1406.7 788.9 L1407.3 787.6 L1408.8 784.9 L1410.4 782.4 L1411.9 779.9 L1413.4 777.5 L1413.6 777.1 L1414.9 775.1 L1416.4 772.8 L1417.9 770.6 L1419.4 768.4 L1420.6 766.7 L1420.9 766.2 L1422.4 764.0 L1423.9 761.8 L1425.4 759.7 L1426.9 757.7 L1427.5 756.9 L1428.4 755.8 L1429.9 754.1 L1431.4 752.4 L1432.9 750.8 L1434.4 749.3 L1434.4 749.3 L1435.9 747.9 L1437.4 746.5 L1438.9 745.2 L1440.4 743.9 L1441.4 743.1 L1442.0 742.6 L1443.5 741.3 L1445.0 740.1 L1446.5 738.9 L1448.0 737.8 L1448.3 737.5 L1449.5 736.7 L1451.0 735.8 L1452.5 734.9 L1454.0 734.1 L1455.3 733.3 L1455.5 733.2 L1457.0 732.3 L1458.5 731.5 L1460.0 730.6 L1461.5 729.8 L1462.2 729.4 L1463.0 729.1 L1464.5 728.4 L1466.0 727.7 L1467.5 727.1 L1469.0 726.4 L1469.2 726.4 L1470.5 725.9 L1472.0 725.3 L1473.6 724.8 L1475.1 724.2 L1476.1 723.9 L1476.6 723.7 L1478.1 723.2 L1479.6 722.7 L1481.1 722.2 L1482.6 721.7 L1484.1 721.2 L1485.6 720.7 L1487.1 720.3 L1488.6 719.8 L1490.0 719.4 L1490.1 719.4 L1491.6 719.0 L1493.1 718.7 L1494.6 718.3 L1496.1 718.0 L1497.6 717.7 L1499.1 717.3 L1500.6 717.0 L1502.1 716.7 L1503.6 716.4 L1503.9 716.4 L1505.2 716.1 L1506.7 715.8 L1508.2 715.6 L1509.7 715.3 L1511.2 715.0 L1512.7 714.7 L1514.2 714.5 L1515.7 714.2 L1517.2 714.0 L1517.8 713.9 L1518.7 713.8 L1520.2 713.6 L1521.7 713.4 L1523.2 713.2 L1524.7 713.0 L1526.2 712.8 L1527.7 712.7 L1529.2 712.5 L1530.7 712.3 L1531.7 712.2 L1532.2 712.2 L1533.7 712.0 L1535.2 711.8 L1536.8 711.7 L1538.3 711.5 L1539.8 711.4 L1541.3 711.2 L1542.8 711.1 L1544.3 710.9 L1545.6 710.8 L1545.8 710.8 L1547.3 710.7 L1548.8 710.6 L1550.3 710.5 L1551.8 710.3 L1553.3 710.2 L1554.8 710.1 L1556.3 710.0 L1557.8 709.9 L1559.3 709.8 L1560.8 709.8 L1562.3 709.7 L1563.8 709.6 L1565.0 709.6 L1565.3 709.6 L1566.8 709.5 L1568.4 709.5 L1569.9 709.5 L1571.4 709.4 L1572.9 709.4 L1574.4 709.4 L1575.9 709.3 L1577.4 709.3 L1578.9 709.3 L1580.4 709.3 L1581.9 709.2 L1583.4 709.2 L1584.9 709.2 L1586.4 709.2 L1587.2 709.2 L1587.9 709.2 L1589.4 709.1 L1590.9 709.1 L1592.4 709.1 L1593.9 709.1 L1595.4 709.1 L1596.9 709.1 L1598.4 709.1 L1600.0 709.0 L1601.5 709.0 L1603.0 709.0 L1604.5 709.0 L1606.0 709.0 L1607.5 709.0 L1609.0 709.0 L1610.5 709.0 L1612.0 709.0 L1613.5 709.0 L1615.0 709.0 L1886.0 708.7" fill="none" stroke="#7E2F8E" stroke-width="4.1" stroke-linejoin="round" />
</g>
<g font-family='"Liberation Serif", serif' font-style="italic" font-size="58.3" fill="#000" stroke="#000" stroke-width="0.5"><line x1="621.0" y1="150.4" x2="777.0" y2="150.4" stroke="#0072BD" stroke-width="3.0"/><text x="787.0" y="171.1">DG1</text><line x1="931.1" y1="150.4" x2="1087.1" y2="150.4" stroke="#D95319" stroke-width="3.0"/><text x="1097.1" y="171.1">DG2</text><line x1="1241.2" y1="150.4" x2="1397.2" y2="150.4" stroke="#EDB120" stroke-width="3.0"/><text x="1407.2" y="171.1">DG3</text><line x1="1551.3" y1="150.4" x2="1707.3" y2="150.4" stroke="#7E2F8E" stroke-width="3.0"/><text x="1717.3" y="171.1">DG4</text></g>
<g stroke="#262626" stroke-width="3.95" fill="none"><line x1="357.16" y1="2185.40" x2="357.16" y2="2166.50"/><line x1="357.16" y1="1234.36" x2="357.16" y2="1253.26"/><line x1="527.36" y1="2185.40" x2="527.36" y2="2166.50"/><line x1="527.36" y1="1234.36" x2="527.36" y2="1253.26"/><line x1="697.56" y1="2185.40" x2="697.56" y2="2166.50"/><line x1="697.56" y1="1234.36" x2="697.56" y2="1253.26"/><line x1="867.76" y1="2185.40" x2="867.76" y2="2166.50"/><line x1="867.76" y1="1234.36" x2="867.76" y2="1253.26"/><line x1="1037.96" y1="2185.40" x2="1037.96" y2="2166.50"/><line x1="1037.96" y1="1234.36" x2="1037.96" y2="1253.26"/><line x1="1208.15" y1="2185.40" x2="1208.15" y2="2166.50"/><line x1="1208.15" y1="1234.36" x2="1208.15" y2="1253.26"/><line x1="1378.35" y1="2185.40" x2="1378.35" y2="2166.50"/><line x1="1378.35" y1="1234.36" x2="1378.35" y2="1253.26"/><line x1="1548.55" y1="2185.40" x2="1548.55" y2="2166.50"/><line x1="1548.55" y1="1234.36" x2="1548.55" y2="1253.26"/><line x1="1718.75" y1="2185.40" x2="1718.75" y2="2166.50"/><line x1="1718.75" y1="1234.36" x2="1718.75" y2="1253.26"/><line x1="186.96" y1="1232.88" x2="186.96" y2="2186.88"/><line x1="1888.95" y1="1232.88" x2="1888.95" y2="2186.88"/></g>
<g stroke="#262626" stroke-width="2.95" fill="none"><line x1="186.96" y1="1329.70" x2="205.86" y2="1329.70"/><line x1="1888.95" y1="1329.70" x2="1870.05" y2="1329.70"/><line x1="186.96" y1="1424.78" x2="205.86" y2="1424.78"/><line x1="1888.95" y1="1424.78" x2="1870.05" y2="1424.78"/><line x1="186.96" y1="1519.86" x2="205.86" y2="1519.86"/><line x1="1888.95" y1="1519.86" x2="1870.05" y2="1519.86"/><line x1="186.96" y1="1614.94" x2="205.86" y2="1614.94"/><line x1="1888.95" y1="1614.94" x2="1870.05" y2="1614.94"/><line x1="186.96" y1="1710.02" x2="205.86" y2="1710.02"/><line x1="1888.95" y1="1710.02" x2="1870.05" y2="1710.02"/><line x1="186.96" y1="1805.10" x2="205.86" y2="1805.10"/><line x1="1888.95" y1="1805.10" x2="1870.05" y2="1805.10"/><line x1="186.96" y1="1900.18" x2="205.86" y2="1900.18"/><line x1="1888.95" y1="1900.18" x2="1870.05" y2="1900.18"/><line x1="186.96" y1="1995.26" x2="205.86" y2="1995.26"/><line x1="1888.95" y1="1995.26" x2="1870.05" y2="1995.26"/><line x1="186.96" y1="2090.34" x2="205.86" y2="2090.34"/><line x1="1888.95" y1="2090.34" x2="1870.05" y2="2090.34"/><line x1="184.99" y1="1234.36" x2="1890.92" y2="1234.36"/><line x1="184.99" y1="2185.40" x2="1890.92" y2="2185.40"/></g>
<g font-family='"Liberation Serif", serif' font-size="41.67" fill="#262626" stroke="#262626" stroke-width="1.1" stroke-linejoin="round"><text x="185.5" y="2231.5" text-anchor="middle">0</text><text x="355.7" y="2231.5" text-anchor="middle">1</text><text x="525.9" y="2231.5" text-anchor="middle">2</text><text x="696.1" y="2231.5" text-anchor="middle">3</text><text x="866.3" y="2231.5" text-anchor="middle">4</text><text x="1036.5" y="2231.5" text-anchor="middle">5</text><text x="1206.7" y="2231.5" text-anchor="middle">6</text><text x="1376.9" y="2231.5" text-anchor="middle">7</text><text x="1547.1" y="2231.5" text-anchor="middle">8</text><text x="1717.3" y="2231.5" text-anchor="middle">9</text><text x="1887.5" y="2231.5" text-anchor="middle">10</text><text x="178.3" y="1248.1" text-anchor="end">410</text><text x="178.3" y="1343.2" text-anchor="end">405</text><text x="178.3" y="1438.3" text-anchor="end">400</text><text x="178.3" y="1533.4" text-anchor="end">395</text><text x="178.3" y="1628.4" text-anchor="end">390</text><text x="178.3" y="1723.5" text-anchor="end">385</text><text x="178.3" y="1818.6" text-anchor="end">380</text><text x="178.3" y="1913.7" text-anchor="end">375</text><text x="178.3" y="2008.8" text-anchor="end">370</text><text x="178.3" y="2103.8" text-anchor="end">365</text><text x="178.3" y="2198.9" text-anchor="end">360</text></g>
<g clip-path="url(#clipB)">
<path d="M195.6 2227.8 L196.4 2184.7 L197.1 2165.7 L198.6 2133.8 L200.1 2110.3 L201.4 2090.3 L201.6 2087.3 L203.1 2063.4 L204.6 2040.7 L206.1 2019.8 L207.6 2000.8 L208.1 1995.3 L209.1 1984.3 L210.6 1969.9 L211.7 1960.0 L212.1 1956.0 L213.6 1942.2 L215.1 1929.2 L215.4 1926.7 L216.6 1917.5 L218.1 1906.7 L219.2 1900.3 L219.6 1897.9 L221.1 1890.8 L222.5 1885.0 L222.6 1884.5 L224.1 1878.3 L225.6 1872.7 L226.1 1871.1 L227.1 1868.2 L228.6 1864.3 L230.1 1860.9 L231.5 1857.9 L231.6 1857.7 L233.1 1854.8 L234.6 1852.1 L235.3 1851.0 L236.1 1849.4 L237.7 1846.8 L239.2 1844.4 L239.9 1843.3 L240.7 1842.2 L242.2 1840.2 L243.7 1838.4 L245.2 1836.7 L245.4 1836.4 L246.7 1835.1 L248.2 1833.6 L249.7 1832.2 L251.2 1830.9 L252.7 1829.7 L253.1 1829.4 L254.2 1828.6 L255.7 1827.6 L257.2 1826.6 L258.7 1825.6 L260.2 1824.7 L261.7 1823.8 L263.2 1823.0 L264.2 1822.5 L264.7 1822.2 L266.2 1821.5 L267.7 1820.8 L269.2 1820.1 L270.7 1819.5 L271.8 1819.0 L272.2 1818.9 L273.7 1818.3 L275.2 1817.7 L276.7 1817.2 L278.2 1816.7 L279.7 1816.3 L281.3 1815.8 L282.2 1815.6 L282.8 1815.4 L284.3 1815.0 L285.8 1814.6 L287.3 1814.3 L288.8 1813.9 L290.3 1813.6 L291.8 1813.2 L293.3 1812.9 L294.8 1812.6 L296.3 1812.3 L297.8 1812.0 L299.3 1811.8 L300.8 1811.5 L301.7 1811.4 L302.3 1811.3 L303.8 1811.1 L305.3 1810.8 L306.8 1810.6 L308.3 1810.4 L309.8 1810.2 L311.3 1810.0 L312.8 1809.8 L314.3 1809.6 L315.8 1809.4 L317.3 1809.3 L318.8 1809.1 L320.3 1808.9 L321.8 1808.8 L323.3 1808.7 L323.9 1808.6 L324.9 1808.5 L326.4 1808.4 L327.9 1808.3 L329.4 1808.2 L330.9 1808.0 L332.4 1807.9 L333.9 1807.8 L335.4 1807.7 L336.9 1807.6 L338.4 1807.5 L339.9 1807.5 L341.4 1807.4 L342.9 1807.3 L344.4 1807.2 L344.7 1807.2 L345.9 1807.2 L347.4 1807.1 L348.9 1807.1 L350.4 1807.0 L351.9 1806.9 L353.4 1806.9 L354.9 1806.8 L356.4 1806.8 L357.9 1806.8 L359.4 1806.7 L360.9 1806.7 L362.4 1806.6 L363.9 1806.6 L365.4 1806.5 L365.6 1806.5 L366.9 1806.5 L368.5 1806.4 L370.0 1806.4 L371.5 1806.4 L373.0 1806.3 L374.5 1806.3 L376.0 1806.2 L377.5 1806.2 L379.0 1806.2 L380.5 1806.1 L382.0 1806.1 L383.5 1806.0 L385.0 1806.0 L385.0 1806.0 L386.5 1805.9 L388.0 1805.9 L389.5 1805.8 L391.0 1805.7 L392.2 1805.7 L392.5 1805.7 L394.0 1805.7 L395.5 1805.6 L397.0 1805.6 L398.5 1805.6 L400.0 1805.5 L401.5 1805.5 L403.0 1805.5 L404.5 1805.5 L406.0 1805.4 L407.5 1805.4 L409.0 1805.4 L410.5 1805.4 L412.1 1805.3 L413.6 1805.3 L415.1 1805.3 L416.6 1805.3 L418.1 1805.3 L419.6 1805.2 L421.1 1805.2 L422.6 1805.2 L424.1 1805.2 L425.6 1805.2 L427.1 1805.2 L428.6 1805.2 L430.1 1805.2 L431.6 1805.2 L433.1 1805.1 L433.9 1805.1 L434.6 1805.1 L436.1 1805.1 L437.6 1805.1 L439.1 1805.1 L440.6 1805.1 L442.1 1805.1 L443.6 1805.1 L445.1 1805.1 L446.6 1805.1 L448.1 1805.1 L449.6 1805.1 L451.1 1805.1 L452.6 1805.1 L454.1 1805.1 L455.7 1805.1 L457.2 1805.1 L458.7 1805.1 L460.2 1805.1 L461.7 1805.1 L697.1 1805.1 L698.0 1805.1 L699.0 1768.3 L699.5 1753.0 L700.2 1735.0 L701.0 1713.3 L701.0 1712.9 L701.7 1701.7 L702.5 1713.3 L702.5 1713.6 L703.3 1720.0 L704.0 1723.6 L705.4 1729.2 L705.5 1729.7 L707.1 1735.8 L707.5 1737.5 L708.6 1741.2 L710.0 1745.8 L710.1 1746.1 L711.6 1750.7 L712.5 1753.3 L713.1 1755.0 L714.6 1758.9 L715.4 1760.8 L716.1 1762.4 L717.6 1765.4 L718.8 1767.5 L719.1 1768.2 L720.6 1770.6 L722.1 1772.8 L722.5 1773.3 L723.7 1774.8 L725.2 1776.7 L726.7 1778.3 L726.7 1778.3 L728.2 1780.0 L729.7 1781.5 L731.2 1782.9 L731.7 1783.3 L732.7 1784.3 L734.2 1785.6 L735.7 1786.8 L736.7 1787.5 L737.2 1787.9 L738.8 1789.1 L740.3 1790.2 L741.8 1791.3 L743.3 1792.3 L744.8 1793.2 L745.0 1793.3 L746.3 1794.1 L747.8 1794.9 L749.3 1795.7 L750.8 1796.4 L752.3 1797.1 L753.3 1797.5 L753.8 1797.7 L755.4 1798.3 L756.9 1798.8 L758.4 1799.4 L759.9 1799.9 L761.4 1800.3 L762.9 1800.8 L764.4 1801.2 L765.9 1801.5 L766.7 1801.7 L767.4 1801.8 L768.9 1802.1 L770.4 1802.3 L772.0 1802.6 L773.5 1802.8 L775.0 1803.0 L776.5 1803.2 L778.0 1803.4 L779.5 1803.6 L781.0 1803.7 L781.7 1803.8 L782.5 1803.8 L784.0 1803.9 L785.5 1804.1 L787.0 1804.2 L788.6 1804.3 L790.1 1804.4 L791.6 1804.5 L793.1 1804.6 L794.6 1804.7 L796.1 1804.8 L797.6 1804.9 L799.1 1804.9 L800.6 1805.0 L802.1 1805.0 L803.6 1805.1 L805.2 1805.1 L806.7 1805.1 L1037.5 1805.1 L1038.3 1805.1 L1039.3 1915.0 L1039.8 1937.2 L1040.0 1939.2 L1040.7 1939.2 L1041.3 1929.3 L1042.1 1915.0 L1042.9 1908.8 L1044.4 1899.9 L1045.9 1893.4 L1046.7 1890.0 L1047.4 1886.9 L1048.9 1880.7 L1050.4 1875.3 L1051.0 1873.3 L1051.9 1870.6 L1053.4 1866.5 L1054.9 1862.7 L1056.4 1859.2 L1057.5 1856.7 L1057.9 1855.7 L1059.4 1852.4 L1060.9 1849.4 L1061.5 1848.3 L1062.4 1846.7 L1063.9 1844.1 L1065.5 1841.8 L1066.7 1840.0 L1067.0 1839.6 L1068.5 1837.4 L1070.0 1835.4 L1071.5 1833.4 L1072.9 1831.7 L1073.0 1831.6 L1074.5 1829.8 L1076.0 1828.1 L1077.5 1826.5 L1079.0 1825.0 L1080.5 1823.6 L1080.8 1823.3 L1082.0 1822.4 L1083.5 1821.2 L1085.0 1820.2 L1086.5 1819.2 L1086.7 1819.2 L1088.1 1818.3 L1089.6 1817.4 L1091.1 1816.5 L1092.6 1815.8 L1094.1 1815.0 L1094.2 1815.0 L1095.6 1814.4 L1097.1 1813.8 L1098.6 1813.2 L1100.1 1812.6 L1101.6 1812.1 L1103.1 1811.6 L1104.6 1811.2 L1105.8 1810.8 L1106.1 1810.8 L1107.6 1810.4 L1109.1 1810.0 L1110.7 1809.6 L1112.2 1809.3 L1113.7 1809.0 L1115.2 1808.7 L1116.7 1808.5 L1117.5 1808.3 L1118.2 1808.2 L1119.7 1808.0 L1121.2 1807.9 L1122.7 1807.7 L1124.2 1807.5 L1125.7 1807.4 L1127.2 1807.2 L1128.7 1807.1 L1130.2 1807.0 L1131.8 1806.8 L1133.3 1806.7 L1134.2 1806.7 L1134.8 1806.6 L1136.3 1806.5 L1137.8 1806.4 L1139.3 1806.3 L1140.8 1806.3 L1142.3 1806.2 L1143.8 1806.1 L1145.3 1806.0 L1146.8 1806.0 L1148.3 1805.9 L1149.8 1805.8 L1150.0 1805.8 L1151.3 1805.8 L1152.8 1805.7 L1154.4 1805.6 L1155.9 1805.6 L1157.4 1805.5 L1158.9 1805.4 L1160.4 1805.4 L1161.9 1805.3 L1163.4 1805.3 L1164.9 1805.2 L1166.4 1805.2 L1166.7 1805.2 L1167.9 1805.2 L1169.4 1805.2 L1170.9 1805.1 L1172.4 1805.1 L1173.9 1805.1 L1175.4 1805.1 L1177.0 1805.1 L1178.5 1805.0 L1180.0 1805.0 L1181.5 1805.0 L1183.0 1805.0 L1184.5 1805.0 L1186.0 1805.0 L1187.5 1805.0 L1377.9 1805.1 L1378.3 1805.1 L1379.8 1831.5 L1380.4 1838.3 L1381.2 1845.0 L1381.3 1845.0 L1382.5 1842.5 L1382.8 1842.0 L1384.3 1840.4 L1385.8 1839.0 L1386.7 1838.3 L1387.3 1837.8 L1388.8 1836.6 L1390.3 1835.5 L1391.9 1834.3 L1392.1 1834.2 L1393.4 1833.2 L1394.9 1832.0 L1396.4 1830.8 L1397.5 1830.0 L1397.9 1829.8 L1399.4 1828.8 L1400.9 1827.9 L1402.4 1827.1 L1403.9 1826.3 L1405.0 1825.8 L1405.4 1825.7 L1406.9 1825.2 L1408.4 1824.7 L1409.9 1824.3 L1411.4 1823.9 L1412.9 1823.5 L1414.4 1823.1 L1415.9 1822.7 L1417.4 1822.3 L1418.9 1821.8 L1419.2 1821.7 L1420.4 1821.2 L1421.9 1820.5 L1423.4 1819.8 L1424.9 1819.1 L1426.4 1818.3 L1427.9 1817.7 L1428.3 1817.5 L1429.4 1817.1 L1430.9 1816.5 L1432.4 1815.9 L1433.9 1815.3 L1435.4 1814.8 L1436.9 1814.3 L1438.4 1813.8 L1439.9 1813.4 L1440.0 1813.3 L1441.4 1813.0 L1442.9 1812.6 L1444.4 1812.2 L1445.9 1811.9 L1447.4 1811.6 L1448.9 1811.3 L1449.2 1811.2 L1450.4 1811.0 L1451.9 1810.7 L1453.4 1810.4 L1454.9 1810.2 L1456.4 1809.9 L1457.9 1809.7 L1459.4 1809.4 L1460.9 1809.2 L1461.7 1809.2 L1462.4 1809.1 L1463.9 1808.9 L1465.4 1808.8 L1466.9 1808.7 L1468.4 1808.6 L1469.9 1808.4 L1471.4 1808.3 L1473.0 1808.2 L1474.5 1808.2 L1476.0 1808.1 L1477.5 1808.0 L1478.3 1807.9 L1479.0 1807.9 L1480.5 1807.8 L1482.0 1807.7 L1483.5 1807.7 L1485.0 1807.6 L1486.5 1807.5 L1488.0 1807.4 L1489.5 1807.4 L1490.0 1807.3 L1491.0 1807.3 L1492.5 1807.2 L1494.0 1807.1 L1495.5 1807.0 L1497.0 1806.8 L1498.5 1806.7 L1500.0 1806.6 L1501.5 1806.5 L1503.0 1806.4 L1504.5 1806.3 L1506.0 1806.3 L1506.7 1806.2 L1507.5 1806.2 L1509.0 1806.2 L1510.5 1806.1 L1512.0 1806.1 L1513.5 1806.0 L1515.0 1806.0 L1516.5 1806.0 L1518.0 1805.9 L1519.5 1805.9 L1521.0 1805.9 L1522.5 1805.8 L1524.0 1805.8 L1525.5 1805.8 L1527.0 1805.8 L1528.5 1805.7 L1530.0 1805.7 L1531.5 1805.7 L1533.0 1805.7 L1534.5 1805.6 L1536.0 1805.6 L1537.5 1805.6 L1539.0 1805.6 L1540.5 1805.5 L1542.0 1805.5 L1543.5 1805.5 L1545.0 1805.5 L1546.5 1805.4 L1548.0 1805.4 L1548.3 1805.4 L1549.5 1805.4 L1551.0 1805.4 L1552.5 1805.4 L1554.1 1805.3 L1555.6 1805.3 L1557.1 1805.3 L1558.6 1805.3 L1560.1 1805.2 L1561.6 1805.2 L1563.1 1805.2 L1564.6 1805.2 L1566.1 1805.2 L1567.6 1805.1 L1569.1 1805.1 L1570.6 1805.1 L1572.1 1805.1 L1573.6 1805.1 L1575.1 1805.0 L1576.6 1805.0 L1578.1 1805.0 L1579.6 1805.0 L1889.0 1805.1" fill="none" stroke="#0072BD" stroke-width="4.1" stroke-linejoin="round" />
<path d="M196.9 2227.8 L197.8 2184.7 L198.5 2164.9 L200.0 2131.8 L201.5 2106.9 L202.5 2090.3 L203.0 2082.0 L204.5 2056.9 L206.0 2033.3 L207.5 2012.0 L208.9 1995.3 L209.0 1993.9 L210.5 1979.2 L212.0 1966.4 L212.8 1960.0 L213.5 1953.3 L215.1 1940.2 L216.6 1927.5 L216.7 1926.7 L218.1 1914.7 L219.6 1902.9 L220.0 1900.3 L221.1 1894.4 L222.6 1887.6 L223.2 1885.0 L224.1 1881.0 L225.6 1874.9 L226.7 1871.1 L227.1 1869.6 L228.6 1864.9 L230.1 1860.7 L231.5 1857.2 L231.7 1856.9 L233.2 1853.5 L234.7 1850.4 L234.7 1850.3 L236.2 1847.4 L237.7 1844.6 L238.5 1843.3 L239.2 1842.2 L240.7 1839.9 L242.2 1837.8 L243.3 1836.4 L243.7 1835.9 L245.2 1834.1 L246.7 1832.3 L248.3 1830.7 L249.6 1829.4 L249.8 1829.3 L251.3 1827.9 L252.8 1826.7 L254.3 1825.5 L255.8 1824.3 L257.3 1823.3 L258.6 1822.5 L258.8 1822.4 L260.3 1821.5 L261.8 1820.8 L263.3 1820.0 L264.9 1819.3 L265.6 1819.0 L266.4 1818.7 L267.9 1818.0 L269.4 1817.3 L270.9 1816.7 L272.4 1816.1 L273.9 1815.6 L273.9 1815.5 L275.4 1815.1 L276.9 1814.6 L278.4 1814.2 L280.0 1813.8 L281.5 1813.4 L283.0 1813.0 L284.5 1812.6 L286.0 1812.3 L287.5 1812.0 L289.0 1811.7 L290.5 1811.4 L290.6 1811.4 L292.0 1811.1 L293.5 1810.9 L295.0 1810.6 L296.6 1810.4 L298.1 1810.1 L299.6 1809.9 L301.1 1809.7 L302.6 1809.5 L304.1 1809.3 L305.6 1809.1 L307.1 1808.9 L308.6 1808.7 L310.0 1808.6 L310.1 1808.6 L311.6 1808.5 L313.2 1808.3 L314.7 1808.2 L316.2 1808.1 L317.7 1808.0 L319.2 1807.9 L320.7 1807.8 L322.2 1807.7 L323.7 1807.6 L325.2 1807.5 L326.7 1807.4 L328.2 1807.4 L329.8 1807.3 L330.8 1807.2 L331.3 1807.2 L332.8 1807.1 L334.3 1807.1 L335.8 1807.0 L337.3 1806.9 L338.8 1806.8 L340.3 1806.8 L341.8 1806.7 L343.3 1806.7 L344.8 1806.6 L346.4 1806.5 L347.9 1806.5 L349.4 1806.4 L350.9 1806.4 L352.4 1806.3 L353.9 1806.3 L355.4 1806.2 L356.9 1806.2 L358.4 1806.1 L358.6 1806.1 L359.9 1806.1 L361.4 1806.0 L363.0 1806.0 L364.5 1805.9 L366.0 1805.9 L367.5 1805.8 L369.0 1805.8 L370.5 1805.8 L372.0 1805.7 L373.5 1805.7 L375.0 1805.6 L376.5 1805.6 L378.0 1805.6 L379.6 1805.5 L381.1 1805.5 L382.6 1805.5 L384.1 1805.4 L385.0 1805.4 L385.6 1805.4 L387.1 1805.4 L388.6 1805.3 L390.1 1805.3 L391.6 1805.3 L392.2 1805.3 L393.1 1805.3 L394.6 1805.3 L396.2 1805.2 L397.7 1805.2 L399.2 1805.2 L400.7 1805.2 L402.2 1805.2 L403.7 1805.2 L405.2 1805.2 L406.7 1805.2 L408.2 1805.1 L409.7 1805.1 L411.3 1805.1 L412.8 1805.1 L414.3 1805.1 L415.8 1805.1 L417.3 1805.1 L418.8 1805.1 L420.3 1805.1 L421.8 1805.1 L423.3 1805.1 L424.8 1805.1 L426.3 1805.1 L427.9 1805.1 L429.4 1805.1 L430.9 1805.1 L432.4 1805.1 L433.9 1805.1 L697.1 1805.1 L697.3 1805.1 L697.9 1693.3 L698.8 1671.7 L698.9 1671.7 L700.4 1671.7 L700.4 1671.7 L701.9 1678.7 L702.5 1682.5 L703.4 1687.3 L704.6 1693.3 L704.9 1695.1 L706.5 1702.7 L707.9 1710.0 L708.0 1710.3 L709.5 1718.1 L711.0 1725.6 L711.2 1726.7 L712.5 1732.2 L714.1 1738.2 L715.4 1743.3 L715.6 1743.9 L717.1 1749.3 L718.6 1754.5 L720.1 1759.2 L720.4 1760.0 L721.7 1763.5 L723.2 1767.5 L724.7 1771.3 L726.2 1774.8 L727.1 1776.7 L727.7 1778.0 L729.3 1780.9 L730.8 1783.6 L731.7 1785.0 L732.3 1785.9 L733.8 1788.1 L735.3 1790.0 L736.9 1791.8 L738.3 1793.3 L738.4 1793.4 L739.9 1794.8 L741.4 1796.1 L742.9 1797.2 L743.3 1797.5 L744.5 1798.2 L746.0 1799.1 L747.5 1799.9 L749.0 1800.6 L750.5 1801.2 L751.7 1801.7 L752.1 1801.8 L753.6 1802.3 L755.1 1802.8 L756.6 1803.2 L758.1 1803.6 L759.2 1803.8 L759.7 1803.8 L761.2 1804.0 L762.7 1804.3 L764.2 1804.4 L765.7 1804.6 L767.3 1804.8 L768.8 1804.9 L770.3 1805.0 L771.8 1805.1 L773.3 1805.1 L1037.5 1805.1 L1037.3 1805.1 L1037.8 1981.7 L1038.2 1986.7 L1038.8 1978.4 L1039.2 1973.3 L1040.3 1960.7 L1041.7 1948.3 L1041.9 1946.7 L1043.4 1934.6 L1043.8 1931.7 L1044.9 1923.8 L1046.2 1915.0 L1046.4 1914.3 L1047.9 1906.1 L1049.4 1898.6 L1050.9 1891.6 L1051.2 1890.0 L1052.4 1885.1 L1053.9 1879.0 L1055.4 1873.4 L1055.4 1873.3 L1056.9 1868.0 L1058.4 1863.0 L1059.9 1858.2 L1060.4 1856.7 L1061.4 1853.6 L1062.9 1849.1 L1064.4 1844.8 L1065.9 1840.8 L1066.2 1840.0 L1067.5 1837.1 L1069.0 1833.8 L1070.0 1831.7 L1070.5 1830.8 L1072.0 1828.1 L1073.5 1825.6 L1075.0 1823.4 L1075.0 1823.3 L1076.5 1821.2 L1078.0 1819.2 L1079.5 1817.3 L1081.0 1815.6 L1081.7 1815.0 L1082.5 1814.3 L1084.0 1813.0 L1085.5 1812.0 L1087.0 1811.1 L1087.5 1810.8 L1088.5 1810.3 L1090.0 1809.7 L1091.5 1809.1 L1093.1 1808.5 L1094.6 1808.1 L1096.1 1807.6 L1096.7 1807.5 L1097.6 1807.3 L1099.1 1807.0 L1100.6 1806.7 L1102.1 1806.4 L1103.6 1806.2 L1105.0 1806.0 L1105.1 1806.0 L1106.6 1805.8 L1108.1 1805.7 L1109.6 1805.6 L1111.1 1805.5 L1112.6 1805.4 L1113.3 1805.4 L1114.1 1805.4 L1115.6 1805.3 L1117.1 1805.3 L1118.7 1805.2 L1120.2 1805.2 L1121.7 1805.2 L1377.9 1805.1 L1378.3 1805.1 L1379.8 1842.0 L1380.4 1850.8 L1381.2 1858.8 L1381.3 1858.7 L1382.8 1852.5 L1383.3 1850.8 L1384.4 1849.2 L1385.9 1847.5 L1386.7 1846.7 L1387.4 1845.9 L1388.9 1844.4 L1390.4 1843.1 L1391.9 1841.8 L1393.4 1840.5 L1394.9 1839.2 L1395.8 1838.3 L1396.4 1837.8 L1397.9 1836.4 L1399.4 1835.0 L1400.9 1833.7 L1402.4 1832.3 L1403.9 1830.9 L1405.0 1830.0 L1405.4 1829.6 L1406.9 1828.3 L1408.4 1827.0 L1409.9 1825.9 L1410.0 1825.8 L1411.5 1824.8 L1413.0 1823.8 L1414.5 1822.9 L1416.0 1822.1 L1416.7 1821.7 L1417.5 1821.2 L1419.0 1820.4 L1420.5 1819.6 L1422.0 1818.9 L1423.5 1818.2 L1425.0 1817.5 L1425.0 1817.5 L1426.5 1816.8 L1428.0 1816.2 L1429.5 1815.6 L1431.0 1815.0 L1432.5 1814.5 L1434.0 1813.9 L1435.5 1813.4 L1435.8 1813.3 L1437.0 1813.0 L1438.6 1812.5 L1440.1 1812.1 L1441.6 1811.7 L1443.1 1811.3 L1444.6 1810.9 L1445.0 1810.8 L1446.1 1810.6 L1447.6 1810.3 L1449.1 1809.9 L1450.6 1809.6 L1452.1 1809.4 L1453.3 1809.2 L1453.6 1809.1 L1455.1 1808.9 L1456.6 1808.6 L1458.1 1808.4 L1459.6 1808.2 L1461.1 1808.0 L1462.6 1807.8 L1464.1 1807.7 L1465.7 1807.5 L1465.8 1807.5 L1467.2 1807.4 L1468.7 1807.3 L1470.2 1807.1 L1471.7 1807.0 L1473.2 1806.9 L1474.7 1806.9 L1476.2 1806.8 L1477.7 1806.7 L1478.3 1806.7 L1479.2 1806.6 L1480.7 1806.6 L1482.2 1806.5 L1483.7 1806.5 L1485.2 1806.4 L1486.7 1806.4 L1488.2 1806.3 L1489.7 1806.3 L1490.0 1806.2 L1491.2 1806.2 L1492.8 1806.1 L1494.3 1806.0 L1495.8 1805.9 L1497.3 1805.9 L1498.8 1805.8 L1500.3 1805.7 L1501.8 1805.6 L1503.3 1805.5 L1504.8 1805.5 L1506.3 1805.4 L1506.7 1805.4 L1507.8 1805.4 L1509.3 1805.4 L1510.8 1805.3 L1512.3 1805.3 L1513.8 1805.3 L1515.3 1805.2 L1516.8 1805.2 L1518.3 1805.2 L1519.9 1805.2 L1521.4 1805.1 L1522.9 1805.1 L1524.4 1805.1 L1525.9 1805.1 L1527.4 1805.1 L1528.9 1805.0 L1530.4 1805.0 L1531.9 1805.0 L1533.4 1805.0 L1534.9 1805.0 L1536.4 1805.0 L1537.9 1805.0 L1889.0 1805.1" fill="none" stroke="#D95319" stroke-width="4.1" stroke-linejoin="round" />
<path d="M187.0 1805.1 L187.0 2300.0 L188.0 2300.0 L190.0 2227.8 L191.1 2184.7 L191.5 2173.2 L193.0 2137.6 L193.9 2116.7 L194.5 2099.5 L196.0 2056.6 L196.4 2047.2 L197.5 2020.5 L199.0 1988.7 L199.4 1980.6 L200.5 1959.1 L202.0 1932.4 L202.8 1922.2 L203.5 1913.8 L205.1 1900.4 L206.1 1891.7 L206.6 1887.8 L208.1 1875.2 L209.6 1863.4 L210.3 1858.3 L211.1 1852.9 L212.6 1843.5 L214.1 1835.1 L214.4 1833.3 L215.6 1828.0 L217.1 1821.5 L218.6 1815.7 L220.0 1811.1 L220.1 1810.8 L221.6 1806.4 L223.1 1802.5 L224.6 1799.1 L225.6 1797.2 L226.1 1796.2 L227.6 1793.5 L229.1 1791.2 L230.6 1789.4 L231.1 1788.9 L232.2 1787.9 L233.7 1786.6 L235.2 1785.6 L236.7 1785.0 L236.7 1785.0 L238.2 1784.7 L239.7 1784.5 L241.2 1784.3 L242.7 1784.2 L243.6 1784.2 L244.2 1784.2 L245.7 1784.3 L247.2 1784.4 L248.7 1784.7 L250.2 1784.9 L251.7 1785.2 L253.2 1785.5 L253.3 1785.6 L254.7 1785.9 L256.2 1786.3 L257.7 1786.9 L259.3 1787.4 L260.8 1788.0 L262.3 1788.6 L263.8 1789.2 L264.4 1789.4 L265.3 1789.7 L266.8 1790.3 L268.3 1790.8 L269.8 1791.3 L271.3 1791.9 L272.8 1792.4 L274.3 1792.9 L275.8 1793.4 L277.3 1793.9 L278.8 1794.4 L280.3 1794.8 L281.1 1795.0 L281.8 1795.2 L283.3 1795.6 L284.8 1795.9 L286.4 1796.3 L287.9 1796.6 L289.4 1796.9 L290.9 1797.2 L292.4 1797.6 L293.9 1797.9 L295.4 1798.1 L296.9 1798.4 L298.4 1798.7 L299.9 1798.9 L301.4 1799.2 L302.9 1799.4 L303.3 1799.4 L304.4 1799.6 L305.9 1799.8 L307.4 1800.0 L308.9 1800.2 L310.4 1800.4 L311.9 1800.6 L313.4 1800.7 L315.0 1800.9 L316.5 1801.1 L318.0 1801.2 L319.5 1801.4 L321.0 1801.5 L322.5 1801.7 L324.0 1801.8 L325.5 1801.9 L325.6 1801.9 L327.0 1802.1 L328.5 1802.2 L330.0 1802.3 L331.5 1802.4 L333.0 1802.5 L334.5 1802.7 L336.0 1802.8 L337.5 1802.9 L339.0 1803.0 L340.5 1803.1 L342.1 1803.2 L343.6 1803.3 L345.1 1803.3 L346.6 1803.4 L348.1 1803.5 L349.6 1803.6 L350.6 1803.6 L351.1 1803.6 L352.6 1803.7 L354.1 1803.8 L355.6 1803.8 L357.1 1803.9 L358.6 1803.9 L360.1 1804.0 L361.6 1804.1 L363.1 1804.1 L364.6 1804.2 L366.1 1804.2 L367.6 1804.3 L369.2 1804.4 L370.7 1804.4 L372.2 1804.5 L373.7 1804.5 L375.2 1804.5 L376.7 1804.6 L378.2 1804.6 L379.7 1804.7 L381.2 1804.7 L382.7 1804.7 L384.2 1804.8 L385.7 1804.8 L387.2 1804.8 L388.7 1804.8 L390.2 1804.8 L391.7 1804.9 L392.2 1804.9 L393.2 1804.9 L394.7 1804.9 L396.3 1804.9 L397.8 1804.9 L399.3 1804.9 L400.8 1804.9 L402.3 1804.9 L403.8 1804.9 L405.3 1804.9 L406.8 1804.9 L408.3 1804.9 L409.8 1804.9 L411.3 1805.0 L412.8 1805.0 L414.3 1805.0 L415.8 1805.0 L417.3 1805.0 L418.8 1805.0 L420.3 1805.0 L421.8 1805.0 L423.4 1805.0 L424.9 1805.0 L426.4 1805.0 L427.9 1805.0 L429.4 1805.0 L430.9 1805.0 L432.4 1805.0 L433.9 1805.0 L697.1 1805.1 L697.1 1805.1 L697.7 1760.0 L698.3 1745.8 L698.6 1746.1 L699.3 1748.3 L700.1 1751.7 L701.6 1759.8 L701.7 1760.0 L703.1 1765.2 L704.2 1768.3 L704.6 1769.5 L706.1 1773.1 L707.6 1776.1 L707.9 1776.7 L709.1 1779.0 L710.7 1781.6 L712.2 1783.9 L712.9 1785.0 L713.7 1786.0 L715.2 1787.9 L716.7 1789.6 L718.2 1791.2 L719.7 1792.7 L720.4 1793.3 L721.2 1794.0 L722.7 1795.3 L724.2 1796.4 L725.7 1797.4 L725.8 1797.5 L727.2 1798.3 L728.8 1799.2 L730.3 1800.0 L731.8 1800.7 L733.3 1801.3 L734.2 1801.7 L734.8 1801.9 L736.3 1802.4 L737.8 1802.9 L739.3 1803.4 L740.8 1803.8 L742.3 1804.2 L743.8 1804.5 L745.3 1804.9 L746.7 1805.1 L746.8 1805.1 L748.4 1805.4 L749.9 1805.6 L751.4 1805.8 L752.9 1806.0 L754.4 1806.2 L755.9 1806.2 L756.7 1806.2 L757.4 1806.2 L758.9 1806.2 L760.4 1806.2 L761.9 1806.2 L763.4 1806.2 L764.9 1806.2 L766.5 1806.2 L768.0 1806.2 L769.5 1806.2 L771.0 1806.2 L772.5 1806.2 L774.0 1806.2 L775.5 1806.2 L777.0 1806.2 L778.5 1806.2 L780.0 1806.2 L781.5 1806.2 L783.0 1806.2 L784.6 1806.2 L786.1 1806.2 L787.6 1806.2 L789.1 1806.2 L790.6 1806.2 L792.1 1806.2 L793.6 1806.2 L795.1 1806.2 L796.6 1806.2 L798.1 1806.2 L799.6 1806.2 L801.1 1806.2 L802.6 1806.2 L804.2 1806.2 L805.7 1806.2 L806.7 1806.2 L807.2 1806.2 L808.7 1806.2 L810.2 1806.2 L811.7 1806.2 L813.2 1806.2 L814.7 1806.2 L816.2 1806.2 L817.7 1806.2 L819.2 1806.2 L820.7 1806.2 L822.3 1806.1 L823.8 1806.1 L825.3 1806.1 L826.8 1806.1 L828.3 1806.1 L829.8 1806.0 L831.3 1806.0 L832.8 1806.0 L834.3 1806.0 L835.8 1805.9 L837.3 1805.9 L838.8 1805.9 L840.3 1805.9 L841.9 1805.8 L843.4 1805.8 L844.9 1805.8 L846.4 1805.7 L847.9 1805.7 L849.4 1805.7 L850.9 1805.7 L852.4 1805.6 L853.9 1805.6 L855.4 1805.6 L856.9 1805.6 L858.4 1805.5 L860.0 1805.5 L861.5 1805.5 L863.0 1805.5 L864.5 1805.5 L866.0 1805.4 L867.5 1805.4 L868.3 1805.4 L869.0 1805.4 L870.5 1805.4 L872.0 1805.4 L873.5 1805.4 L875.0 1805.4 L876.5 1805.3 L878.1 1805.3 L879.6 1805.3 L881.1 1805.3 L882.6 1805.3 L884.1 1805.3 L885.6 1805.3 L887.1 1805.3 L888.6 1805.2 L890.1 1805.2 L891.6 1805.2 L893.1 1805.2 L894.6 1805.2 L896.1 1805.2 L897.7 1805.2 L899.2 1805.2 L900.7 1805.2 L902.2 1805.1 L903.7 1805.1 L905.2 1805.1 L906.7 1805.1 L908.2 1805.1 L909.7 1805.1 L911.2 1805.1 L912.7 1805.1 L914.2 1805.1 L915.8 1805.1 L917.3 1805.1 L918.8 1805.0 L920.3 1805.0 L921.8 1805.0 L923.3 1805.0 L924.8 1805.0 L926.3 1805.0 L927.8 1805.0 L929.3 1805.0 L930.8 1805.0 L1037.5 1805.1 L1037.5 1805.1 L1037.9 1865.0 L1038.3 1877.9 L1039.0 1875.2 L1039.3 1873.3 L1040.5 1866.8 L1040.8 1865.0 L1042.0 1858.8 L1042.5 1856.7 L1043.5 1853.0 L1045.0 1848.3 L1045.0 1848.3 L1046.5 1843.7 L1047.9 1840.0 L1048.0 1839.7 L1049.5 1836.4 L1051.0 1833.5 L1052.1 1831.7 L1052.5 1830.9 L1054.0 1828.5 L1055.5 1826.3 L1057.1 1824.4 L1057.9 1823.3 L1058.6 1822.6 L1060.1 1821.0 L1061.6 1819.4 L1063.1 1818.0 L1064.6 1816.7 L1066.1 1815.5 L1066.7 1815.0 L1067.6 1814.3 L1069.1 1813.3 L1070.6 1812.3 L1072.1 1811.4 L1073.3 1810.8 L1073.6 1810.7 L1075.1 1810.1 L1076.6 1809.5 L1078.1 1809.0 L1079.6 1808.5 L1081.1 1808.0 L1082.6 1807.7 L1083.3 1807.5 L1084.1 1807.3 L1085.6 1807.0 L1087.1 1806.8 L1088.6 1806.5 L1090.1 1806.3 L1091.6 1806.1 L1093.1 1805.9 L1094.6 1805.7 L1096.2 1805.5 L1096.7 1805.4 L1097.7 1805.3 L1099.2 1805.1 L1100.7 1804.9 L1102.2 1804.8 L1103.7 1804.6 L1105.2 1804.5 L1106.7 1804.3 L1108.2 1804.2 L1109.2 1804.2 L1109.7 1804.1 L1111.2 1804.1 L1112.7 1804.0 L1114.2 1803.9 L1115.7 1803.9 L1117.2 1803.8 L1118.7 1803.8 L1120.2 1803.8 L1121.7 1803.8 L1121.7 1803.8 L1123.2 1803.8 L1124.7 1803.8 L1126.2 1803.8 L1127.7 1803.8 L1129.2 1803.8 L1130.7 1803.8 L1132.2 1803.8 L1133.8 1803.8 L1135.3 1803.8 L1136.8 1803.8 L1138.3 1803.8 L1139.8 1803.8 L1141.3 1803.8 L1142.8 1803.8 L1144.3 1803.8 L1145.8 1803.8 L1147.3 1803.8 L1148.8 1803.8 L1150.0 1803.8 L1150.3 1803.8 L1151.8 1803.8 L1153.3 1803.8 L1154.8 1803.8 L1156.3 1803.8 L1157.8 1803.8 L1159.3 1803.8 L1160.8 1803.8 L1162.3 1803.8 L1163.8 1803.8 L1165.3 1803.8 L1166.8 1803.8 L1168.3 1803.8 L1169.8 1803.8 L1171.4 1803.8 L1172.9 1803.9 L1174.4 1803.9 L1175.9 1803.9 L1177.4 1803.9 L1178.9 1803.9 L1180.4 1803.9 L1181.9 1803.9 L1183.4 1803.9 L1184.9 1804.0 L1186.4 1804.0 L1187.9 1804.0 L1189.4 1804.0 L1190.9 1804.0 L1192.4 1804.0 L1193.9 1804.0 L1195.4 1804.1 L1196.9 1804.1 L1198.4 1804.1 L1199.9 1804.1 L1201.4 1804.1 L1202.9 1804.1 L1204.4 1804.1 L1205.9 1804.1 L1207.4 1804.2 L1208.3 1804.2 L1208.9 1804.2 L1210.5 1804.2 L1212.0 1804.2 L1213.5 1804.2 L1215.0 1804.2 L1216.5 1804.2 L1218.0 1804.2 L1219.5 1804.2 L1221.0 1804.3 L1222.5 1804.3 L1224.0 1804.3 L1225.5 1804.3 L1227.0 1804.3 L1228.5 1804.3 L1230.0 1804.3 L1231.5 1804.3 L1233.0 1804.3 L1234.5 1804.3 L1236.0 1804.3 L1237.5 1804.4 L1239.0 1804.4 L1240.5 1804.4 L1242.0 1804.4 L1243.5 1804.4 L1245.0 1804.4 L1246.5 1804.4 L1248.1 1804.4 L1249.6 1804.4 L1251.1 1804.4 L1252.6 1804.5 L1254.1 1804.5 L1255.6 1804.5 L1257.1 1804.5 L1258.6 1804.5 L1260.1 1804.5 L1261.6 1804.5 L1263.1 1804.5 L1264.6 1804.5 L1266.1 1804.5 L1267.6 1804.5 L1269.1 1804.6 L1270.6 1804.6 L1272.1 1804.6 L1273.6 1804.6 L1275.1 1804.6 L1276.6 1804.6 L1278.1 1804.6 L1279.6 1804.6 L1281.1 1804.6 L1282.6 1804.6 L1284.1 1804.6 L1285.7 1804.7 L1287.2 1804.7 L1288.7 1804.7 L1290.2 1804.7 L1291.7 1804.7 L1377.9 1805.1 L1378.3 1805.1 L1378.8 1640.0 L1379.2 1551.7 L1379.8 1552.5 L1381.3 1570.3 L1382.1 1581.7 L1382.8 1591.0 L1384.2 1606.7 L1384.3 1608.5 L1385.8 1623.3 L1387.3 1638.4 L1387.5 1640.0 L1388.8 1652.2 L1389.3 1656.7 L1390.3 1665.7 L1391.2 1673.3 L1391.8 1677.6 L1393.3 1687.4 L1393.8 1690.0 L1394.8 1696.4 L1396.3 1704.8 L1396.7 1706.7 L1397.8 1713.3 L1399.3 1721.4 L1399.8 1723.3 L1400.8 1727.6 L1401.5 1730.0 L1402.3 1733.2 L1403.8 1739.0 L1405.3 1744.5 L1406.0 1746.7 L1406.8 1749.1 L1408.3 1753.2 L1409.8 1757.0 L1411.3 1760.6 L1412.5 1763.3 L1412.8 1764.1 L1414.3 1767.6 L1415.8 1770.8 L1416.2 1771.7 L1417.3 1773.7 L1418.8 1776.2 L1420.3 1778.6 L1421.2 1780.0 L1421.8 1780.9 L1423.3 1783.0 L1424.8 1785.1 L1426.3 1787.0 L1427.5 1788.3 L1427.8 1788.7 L1429.3 1790.4 L1430.8 1791.9 L1432.3 1793.2 L1432.5 1793.3 L1433.8 1794.3 L1435.3 1795.4 L1436.8 1796.3 L1437.5 1796.7 L1438.3 1797.1 L1439.8 1797.9 L1441.3 1798.7 L1442.8 1799.4 L1444.3 1800.0 L1445.8 1800.6 L1446.7 1800.8 L1447.3 1801.0 L1448.8 1801.5 L1450.3 1801.9 L1451.8 1802.2 L1453.3 1802.5 L1454.8 1802.8 L1456.3 1803.1 L1457.5 1803.3 L1457.8 1803.4 L1459.3 1803.6 L1460.8 1803.9 L1462.3 1804.1 L1463.8 1804.3 L1465.3 1804.5 L1466.8 1804.7 L1468.3 1804.9 L1469.8 1805.0 L1470.0 1805.0 L1471.3 1805.1 L1472.8 1805.2 L1474.3 1805.3 L1475.8 1805.4 L1477.3 1805.4 L1478.8 1805.5 L1480.3 1805.6 L1481.8 1805.7 L1483.3 1805.7 L1484.8 1805.8 L1486.3 1805.8 L1487.8 1805.8 L1489.3 1805.8 L1490.0 1805.8 L1490.8 1805.8 L1492.3 1805.8 L1493.8 1805.8 L1495.3 1805.8 L1496.8 1805.8 L1498.3 1805.7 L1499.8 1805.7 L1501.3 1805.7 L1502.8 1805.7 L1504.3 1805.6 L1505.8 1805.6 L1506.7 1805.6 L1507.3 1805.6 L1508.8 1805.6 L1510.3 1805.7 L1511.8 1805.7 L1513.3 1805.7 L1514.8 1805.8 L1516.3 1805.8 L1517.8 1805.9 L1519.3 1805.9 L1520.8 1805.9 L1522.3 1806.0 L1523.8 1806.0 L1525.3 1806.0 L1526.8 1806.0 L1527.5 1806.0 L1528.3 1806.0 L1529.8 1806.0 L1531.3 1806.0 L1532.8 1806.0 L1534.3 1806.0 L1535.8 1806.0 L1537.3 1806.0 L1538.8 1806.0 L1540.3 1806.0 L1541.8 1806.0 L1543.3 1806.0 L1544.8 1806.0 L1546.3 1806.0 L1547.8 1806.0 L1549.3 1806.0 L1550.8 1806.0 L1552.3 1806.0 L1553.8 1806.0 L1555.3 1806.0 L1556.8 1806.0 L1558.3 1806.0 L1559.8 1806.0 L1561.3 1806.0 L1562.8 1806.0 L1562.9 1806.0 L1564.3 1806.0 L1565.8 1806.0 L1567.3 1806.0 L1568.8 1806.0 L1570.3 1806.0 L1571.8 1806.0 L1573.3 1806.0 L1574.8 1806.0 L1576.3 1806.0 L1577.8 1805.9 L1579.3 1805.9 L1580.8 1805.9 L1582.3 1805.9 L1583.8 1805.8 L1585.3 1805.8 L1586.8 1805.8 L1588.3 1805.8 L1589.8 1805.7 L1591.3 1805.7 L1592.8 1805.7 L1594.3 1805.6 L1595.8 1805.6 L1597.3 1805.6 L1598.8 1805.5 L1600.3 1805.5 L1601.8 1805.4 L1603.3 1805.4 L1604.8 1805.4 L1606.3 1805.3 L1607.8 1805.3 L1609.3 1805.2 L1610.8 1805.2 L1889.0 1805.1" fill="none" stroke="#EDB120" stroke-width="4.1" stroke-linejoin="round" />
<path d="M187.0 1200.0 L187.0 2300.0 L188.0 2300.0 L188.9 2227.8 L190.0 2184.7 L190.4 2172.5 L191.9 2132.6 L192.5 2116.7 L193.4 2091.4 L194.9 2049.8 L195.0 2047.2 L196.4 2010.3 L197.8 1980.6 L197.9 1978.4 L199.4 1957.4 L200.9 1940.9 L201.1 1938.9 L202.4 1927.0 L203.9 1915.2 L204.4 1911.1 L205.4 1903.7 L206.9 1893.0 L207.5 1888.9 L208.4 1882.2 L209.9 1871.2 L211.4 1861.1 L211.7 1859.7 L212.9 1852.3 L214.4 1844.2 L215.8 1837.5 L215.9 1837.0 L217.4 1830.4 L219.0 1824.5 L220.0 1820.8 L220.5 1819.4 L222.0 1814.7 L223.5 1810.5 L225.0 1806.8 L225.6 1805.6 L226.5 1803.7 L228.0 1800.9 L229.5 1798.5 L231.0 1796.5 L231.1 1796.4 L232.5 1795.0 L234.0 1793.6 L235.5 1792.4 L237.0 1791.4 L238.5 1790.6 L239.4 1790.3 L240.0 1790.1 L241.5 1789.6 L243.0 1789.2 L244.5 1788.9 L246.0 1788.6 L247.5 1788.4 L249.0 1788.3 L249.2 1788.3 L250.5 1788.4 L252.0 1788.5 L253.5 1788.7 L255.0 1788.9 L256.5 1789.2 L258.0 1789.5 L259.5 1789.9 L261.0 1790.2 L261.7 1790.3 L262.5 1790.4 L264.0 1790.8 L265.5 1791.1 L267.0 1791.5 L268.6 1791.8 L270.1 1792.2 L271.6 1792.6 L273.1 1793.0 L274.6 1793.4 L276.1 1793.8 L277.6 1794.2 L279.1 1794.5 L280.6 1794.9 L281.1 1795.0 L282.1 1795.2 L283.6 1795.5 L285.1 1795.9 L286.6 1796.2 L288.1 1796.5 L289.6 1796.9 L291.1 1797.2 L292.6 1797.5 L294.1 1797.8 L295.6 1798.1 L297.1 1798.4 L298.6 1798.7 L300.1 1798.9 L301.6 1799.2 L303.1 1799.4 L303.3 1799.4 L304.6 1799.6 L306.1 1799.8 L307.6 1800.0 L309.1 1800.2 L310.6 1800.4 L312.1 1800.6 L313.6 1800.8 L315.1 1800.9 L316.6 1801.1 L318.2 1801.3 L319.7 1801.4 L321.2 1801.6 L322.7 1801.7 L324.2 1801.8 L325.6 1801.9 L325.7 1802.0 L327.2 1802.1 L328.7 1802.2 L330.2 1802.3 L331.7 1802.4 L333.2 1802.6 L334.7 1802.7 L336.2 1802.8 L337.7 1802.9 L339.2 1803.0 L340.7 1803.1 L342.2 1803.2 L343.7 1803.3 L345.2 1803.3 L346.7 1803.4 L348.2 1803.5 L349.7 1803.6 L350.6 1803.6 L351.2 1803.6 L352.7 1803.7 L354.2 1803.8 L355.7 1803.8 L357.2 1803.9 L358.7 1804.0 L360.2 1804.0 L361.7 1804.1 L363.2 1804.1 L364.7 1804.2 L366.3 1804.2 L367.8 1804.3 L369.3 1804.4 L370.8 1804.4 L372.3 1804.5 L373.8 1804.5 L375.3 1804.5 L376.8 1804.6 L378.3 1804.6 L379.8 1804.7 L381.3 1804.7 L382.8 1804.7 L384.3 1804.8 L385.8 1804.8 L387.3 1804.8 L388.8 1804.8 L390.3 1804.8 L391.8 1804.9 L392.2 1804.9 L393.3 1804.9 L394.8 1804.9 L396.3 1804.9 L397.8 1804.9 L399.3 1804.9 L400.8 1804.9 L402.3 1804.9 L403.8 1804.9 L405.3 1804.9 L406.8 1804.9 L408.3 1804.9 L409.8 1804.9 L411.3 1805.0 L412.8 1805.0 L414.3 1805.0 L415.9 1805.0 L417.4 1805.0 L418.9 1805.0 L420.4 1805.0 L421.9 1805.0 L423.4 1805.0 L424.9 1805.0 L426.4 1805.0 L427.9 1805.0 L429.4 1805.0 L430.9 1805.0 L432.4 1805.0 L433.9 1805.0 L697.1 1805.1 L697.5 1805.1 L698.2 1776.7 L699.0 1765.4 L699.0 1765.4 L700.0 1768.3 L700.5 1771.1 L702.1 1779.1 L702.1 1779.2 L703.6 1781.3 L705.1 1782.6 L706.6 1783.6 L708.2 1784.6 L708.8 1785.0 L709.7 1785.8 L711.2 1787.0 L712.7 1788.2 L714.2 1789.2 L714.3 1789.2 L715.8 1790.2 L717.3 1791.2 L718.8 1792.1 L720.3 1792.9 L721.2 1793.3 L721.9 1793.6 L723.4 1794.3 L724.9 1795.0 L726.4 1795.6 L728.0 1796.2 L729.5 1796.8 L731.0 1797.3 L731.7 1797.5 L732.5 1797.8 L734.1 1798.2 L735.6 1798.7 L737.1 1799.1 L738.6 1799.5 L740.1 1799.9 L741.7 1800.3 L743.2 1800.7 L744.7 1801.0 L746.2 1801.3 L747.8 1801.6 L748.3 1801.7 L749.3 1801.8 L750.8 1802.1 L752.3 1802.3 L753.9 1802.5 L755.4 1802.7 L756.9 1802.9 L758.4 1803.1 L759.9 1803.3 L761.5 1803.4 L763.0 1803.6 L764.5 1803.7 L765.0 1803.8 L766.0 1803.8 L767.6 1804.0 L769.1 1804.1 L770.6 1804.2 L772.1 1804.3 L773.6 1804.4 L775.2 1804.5 L776.7 1804.6 L778.2 1804.7 L779.7 1804.8 L781.3 1804.9 L782.8 1805.0 L784.3 1805.0 L785.8 1805.1 L1037.5 1805.1 L1037.7 1805.1 L1038.3 1840.0 L1038.8 1851.2 L1039.2 1850.3 L1039.6 1848.3 L1040.7 1838.2 L1040.8 1837.5 L1042.2 1835.1 L1043.7 1833.6 L1045.2 1832.5 L1046.2 1831.7 L1046.7 1831.2 L1048.2 1829.8 L1049.7 1828.4 L1051.2 1827.0 L1052.7 1825.7 L1054.2 1824.5 L1055.7 1823.4 L1055.8 1823.3 L1057.2 1822.5 L1058.7 1821.6 L1060.2 1820.8 L1061.7 1820.0 L1063.2 1819.2 L1063.3 1819.2 L1064.7 1818.4 L1066.2 1817.6 L1067.7 1816.9 L1069.2 1816.1 L1070.7 1815.4 L1071.7 1815.0 L1072.2 1814.8 L1073.7 1814.1 L1075.2 1813.6 L1076.7 1813.0 L1078.2 1812.4 L1079.7 1811.9 L1081.2 1811.4 L1082.7 1811.0 L1083.3 1810.8 L1084.2 1810.6 L1085.7 1810.2 L1087.2 1809.9 L1088.8 1809.6 L1090.3 1809.2 L1091.8 1808.9 L1093.3 1808.7 L1094.8 1808.4 L1095.0 1808.3 L1096.3 1808.1 L1097.8 1807.8 L1099.3 1807.5 L1100.8 1807.3 L1102.3 1807.0 L1103.8 1806.8 L1105.0 1806.7 L1105.3 1806.6 L1106.8 1806.5 L1108.3 1806.3 L1109.8 1806.2 L1111.3 1806.1 L1112.8 1805.9 L1114.3 1805.8 L1115.8 1805.7 L1117.3 1805.6 L1118.8 1805.5 L1120.3 1805.5 L1121.7 1805.4 L1121.8 1805.4 L1123.3 1805.4 L1124.8 1805.3 L1126.3 1805.3 L1127.8 1805.2 L1129.3 1805.2 L1130.8 1805.2 L1132.3 1805.1 L1133.8 1805.1 L1135.3 1805.1 L1136.8 1805.1 L1138.3 1805.1 L1377.9 1805.1 L1378.2 1805.1 L1378.5 1880.0 L1379.0 1910.8 L1379.7 1910.2 L1379.8 1910.0 L1381.2 1904.7 L1382.5 1896.7 L1382.7 1895.6 L1384.2 1885.4 L1385.0 1880.0 L1385.7 1875.8 L1387.2 1867.1 L1387.9 1863.3 L1388.7 1859.6 L1390.2 1853.1 L1391.7 1847.2 L1391.8 1846.7 L1393.2 1841.7 L1394.2 1838.3 L1394.7 1836.5 L1396.2 1831.4 L1396.7 1830.0 L1397.7 1826.8 L1399.2 1822.6 L1399.6 1821.7 L1400.7 1818.9 L1402.2 1815.5 L1403.3 1813.3 L1403.7 1812.6 L1405.2 1810.1 L1405.8 1809.2 L1406.7 1807.9 L1408.2 1806.1 L1409.2 1805.0 L1409.7 1804.3 L1411.3 1802.7 L1412.8 1801.3 L1413.3 1800.8 L1414.3 1800.2 L1415.8 1799.2 L1417.3 1798.3 L1418.8 1797.7 L1419.2 1797.5 L1420.3 1797.1 L1421.8 1796.6 L1423.3 1796.1 L1424.8 1795.7 L1426.3 1795.5 L1426.7 1795.4 L1427.8 1795.3 L1429.3 1795.2 L1430.8 1795.1 L1432.3 1795.0 L1433.8 1794.9 L1435.3 1794.8 L1436.7 1794.8 L1436.8 1794.8 L1438.3 1794.8 L1439.8 1794.9 L1441.3 1794.9 L1442.8 1795.0 L1444.3 1795.1 L1445.8 1795.2 L1447.3 1795.3 L1448.9 1795.4 L1449.2 1795.4 L1450.4 1795.5 L1451.9 1795.6 L1453.4 1795.8 L1454.9 1796.0 L1456.4 1796.2 L1457.9 1796.4 L1459.4 1796.6 L1460.0 1796.7 L1460.9 1796.8 L1462.4 1797.0 L1463.9 1797.2 L1465.4 1797.4 L1466.9 1797.6 L1468.4 1797.8 L1469.9 1798.1 L1471.4 1798.3 L1471.7 1798.3 L1472.9 1798.5 L1474.4 1798.8 L1475.9 1799.0 L1477.4 1799.3 L1478.9 1799.6 L1480.4 1799.8 L1481.7 1800.0 L1481.9 1800.0 L1483.4 1800.3 L1484.9 1800.5 L1486.5 1800.8 L1488.0 1801.0 L1489.5 1801.2 L1490.0 1801.2 L1491.0 1801.4 L1492.5 1801.5 L1494.0 1801.7 L1495.5 1801.8 L1496.2 1801.9 L1497.0 1801.9 L1498.5 1802.1 L1500.0 1802.2 L1501.5 1802.3 L1503.0 1802.4 L1504.5 1802.5 L1506.0 1802.6 L1507.5 1802.7 L1509.0 1802.9 L1510.5 1803.0 L1512.0 1803.0 L1513.5 1803.1 L1515.0 1803.2 L1516.5 1803.3 L1517.1 1803.3 L1518.0 1803.4 L1519.5 1803.5 L1521.0 1803.5 L1522.5 1803.6 L1524.0 1803.7 L1525.6 1803.7 L1527.1 1803.8 L1528.6 1803.9 L1530.1 1803.9 L1531.6 1804.0 L1533.1 1804.1 L1534.6 1804.1 L1536.1 1804.2 L1537.6 1804.2 L1539.1 1804.3 L1540.6 1804.4 L1542.1 1804.4 L1543.6 1804.4 L1545.1 1804.5 L1546.6 1804.5 L1548.1 1804.6 L1548.3 1804.6 L1549.6 1804.6 L1551.1 1804.7 L1552.6 1804.7 L1554.1 1804.7 L1555.6 1804.8 L1557.1 1804.8 L1558.6 1804.8 L1560.1 1804.9 L1561.6 1804.9 L1563.2 1804.9 L1564.7 1804.9 L1566.2 1805.0 L1567.7 1805.0 L1569.2 1805.0 L1889.0 1805.1" fill="none" stroke="#7E2F8E" stroke-width="4.1" stroke-linejoin="round" />
</g>
<g font-family='"Liberation Serif", serif' font-style="italic" font-size="58.3" fill="#000" stroke="#000" stroke-width="0.5"><line x1="621.0" y1="1317.6" x2="777.0" y2="1317.6" stroke="#0072BD" stroke-width="4.0"/><text x="787.0" y="1338.5">DG1</text><line x1="931.1" y1="1317.6" x2="1087.1" y2="1317.6" stroke="#D95319" stroke-width="4.0"/><text x="1097.1" y="1338.5">DG2</text><line x1="1241.2" y1="1317.6" x2="1397.2" y2="1317.6" stroke="#EDB120" stroke-width="4.0"/><text x="1407.2" y="1338.5">DG3</text><line x1="1551.3" y1="1317.6" x2="1707.3" y2="1317.6" stroke="#7E2F8E" stroke-width="4.0"/><text x="1717.3" y="1338.5">DG4</text></g>
<g stroke="#262626" stroke-width="3.95" fill="none"><line x1="352.16" y1="3311.40" x2="352.16" y2="3292.50"/><line x1="352.16" y1="2360.40" x2="352.16" y2="2379.30"/><line x1="522.37" y1="3311.40" x2="522.37" y2="3292.50"/><line x1="522.37" y1="2360.40" x2="522.37" y2="2379.30"/><line x1="692.57" y1="3311.40" x2="692.57" y2="3292.50"/><line x1="692.57" y1="2360.40" x2="692.57" y2="2379.30"/><line x1="862.78" y1="3311.40" x2="862.78" y2="3292.50"/><line x1="862.78" y1="2360.40" x2="862.78" y2="2379.30"/><line x1="1032.98" y1="3311.40" x2="1032.98" y2="3292.50"/><line x1="1032.98" y1="2360.40" x2="1032.98" y2="2379.30"/><line x1="1203.18" y1="3311.40" x2="1203.18" y2="3292.50"/><line x1="1203.18" y1="2360.40" x2="1203.18" y2="2379.30"/><line x1="1373.39" y1="3311.40" x2="1373.39" y2="3292.50"/><line x1="1373.39" y1="2360.40" x2="1373.39" y2="2379.30"/><line x1="1543.59" y1="3311.40" x2="1543.59" y2="3292.50"/><line x1="1543.59" y1="2360.40" x2="1543.59" y2="2379.30"/><line x1="1713.80" y1="3311.40" x2="1713.80" y2="3292.50"/><line x1="1713.80" y1="2360.40" x2="1713.80" y2="2379.30"/><line x1="181.96" y1="2358.93" x2="181.96" y2="3312.88"/><line x1="1884.00" y1="2358.93" x2="1884.00" y2="3312.88"/></g>
<g stroke="#262626" stroke-width="2.95" fill="none"><line x1="181.96" y1="2484.00" x2="200.86" y2="2484.00"/><line x1="1884.00" y1="2484.00" x2="1865.10" y2="2484.00"/><line x1="181.96" y1="2690.80" x2="200.86" y2="2690.80"/><line x1="1884.00" y1="2690.80" x2="1865.10" y2="2690.80"/><line x1="181.96" y1="2897.60" x2="200.86" y2="2897.60"/><line x1="1884.00" y1="2897.60" x2="1865.10" y2="2897.60"/><line x1="181.96" y1="3104.40" x2="200.86" y2="3104.40"/><line x1="1884.00" y1="3104.40" x2="1865.10" y2="3104.40"/><line x1="179.99" y1="2360.40" x2="1885.97" y2="2360.40"/><line x1="179.99" y1="3311.40" x2="1885.97" y2="3311.40"/></g>
<g font-family='"Liberation Serif", serif' font-size="41.67" fill="#262626" stroke="#262626" stroke-width="1.1" stroke-linejoin="round"><text x="180.5" y="3358.0" text-anchor="middle">0</text><text x="350.7" y="3358.0" text-anchor="middle">1</text><text x="520.9" y="3358.0" text-anchor="middle">2</text><text x="691.1" y="3358.0" text-anchor="middle">3</text><text x="861.3" y="3358.0" text-anchor="middle">4</text><text x="1031.5" y="3358.0" text-anchor="middle">5</text><text x="1201.7" y="3358.0" text-anchor="middle">6</text><text x="1371.9" y="3358.0" text-anchor="middle">7</text><text x="1542.1" y="3358.0" text-anchor="middle">8</text><text x="1712.3" y="3358.0" text-anchor="middle">9</text><text x="1882.5" y="3358.0" text-anchor="middle">10</text><text x="170.6" y="2497.5" text-anchor="end">2</text><text x="170.6" y="2704.3" text-anchor="end">1.5</text><text x="170.6" y="2911.1" text-anchor="end">1</text><text x="170.6" y="3117.9" text-anchor="end">0.5</text><text x="170.6" y="3324.7" text-anchor="end">0</text></g>
<g clip-path="url(#clipC)">
<path d="M182.0 3311.2 L182.8 2900.0 L183.1 2890.0 L184.2 2865.0 L184.6 2860.1 L186.1 2846.9 L186.9 2840.0 L187.6 2834.8 L189.1 2822.1 L190.6 2810.5 L191.1 2806.7 L192.1 2800.7 L193.6 2791.9 L195.1 2783.9 L196.6 2776.6 L196.7 2776.1 L198.1 2769.8 L199.6 2763.5 L201.1 2757.8 L202.2 2753.9 L202.6 2752.9 L204.1 2748.7 L205.6 2745.0 L207.1 2741.6 L207.8 2740.0 L208.6 2738.3 L210.1 2735.1 L211.6 2732.0 L213.1 2729.1 L214.6 2726.4 L214.7 2726.1 L216.1 2723.9 L217.6 2721.6 L219.1 2719.4 L220.6 2717.2 L221.7 2715.7 L222.1 2715.2 L223.6 2713.1 L225.1 2711.1 L226.6 2709.1 L228.1 2707.3 L228.6 2706.7 L229.6 2705.6 L231.1 2704.1 L232.6 2702.6 L234.1 2701.1 L235.6 2699.7 L237.1 2698.3 L238.6 2696.9 L240.1 2695.5 L241.6 2694.2 L242.5 2693.5 L243.1 2693.0 L244.6 2691.9 L246.1 2690.9 L247.6 2689.8 L249.1 2688.9 L249.4 2688.6 L250.6 2687.9 L252.1 2687.0 L253.6 2686.1 L255.1 2685.2 L256.4 2684.4 L256.6 2684.4 L258.1 2683.6 L259.6 2682.8 L261.1 2682.1 L262.6 2681.3 L263.3 2681.0 L264.1 2680.6 L265.6 2679.9 L267.1 2679.2 L268.6 2678.5 L270.1 2677.8 L271.6 2677.1 L273.1 2676.5 L274.6 2675.8 L276.1 2675.2 L277.2 2674.7 L277.6 2674.6 L279.1 2674.0 L280.6 2673.4 L282.1 2672.9 L283.6 2672.4 L285.1 2671.8 L286.6 2671.3 L288.1 2670.8 L289.6 2670.3 L291.1 2669.9 L291.1 2669.9 L292.6 2669.4 L294.1 2669.0 L295.6 2668.6 L297.1 2668.2 L298.6 2667.8 L300.1 2667.4 L301.6 2667.0 L303.1 2666.6 L304.6 2666.2 L305.0 2666.1 L306.1 2665.8 L307.6 2665.5 L309.1 2665.1 L310.6 2664.7 L312.1 2664.4 L313.6 2664.0 L315.1 2663.7 L316.6 2663.4 L318.1 2663.1 L318.9 2662.9 L319.6 2662.8 L321.1 2662.5 L322.6 2662.3 L324.1 2662.1 L325.6 2661.8 L327.1 2661.6 L328.6 2661.4 L330.1 2661.2 L331.6 2661.0 L332.8 2660.8 L333.1 2660.8 L334.6 2660.6 L336.1 2660.4 L337.6 2660.2 L339.1 2660.0 L340.6 2659.8 L342.1 2659.7 L343.6 2659.5 L345.1 2659.3 L346.6 2659.2 L346.7 2659.2 L348.1 2659.0 L349.6 2658.9 L351.1 2658.8 L352.6 2658.6 L354.1 2658.5 L355.6 2658.4 L357.1 2658.3 L358.6 2658.2 L360.1 2658.1 L360.6 2658.1 L361.6 2658.0 L363.1 2657.9 L364.6 2657.8 L366.1 2657.6 L367.6 2657.5 L369.1 2657.4 L370.6 2657.3 L372.1 2657.2 L373.6 2657.1 L375.1 2657.1 L376.6 2657.0 L378.1 2657.0 L379.6 2656.9 L380.0 2656.9 L381.1 2656.9 L382.6 2656.9 L384.1 2656.9 L385.6 2656.9 L387.1 2656.9 L388.6 2656.9 L390.1 2656.9 L391.6 2656.9 L392.2 2656.9 L393.1 2656.9 L394.6 2656.9 L396.1 2656.9 L397.6 2656.9 L399.1 2656.9 L400.6 2656.8 L402.1 2656.8 L403.6 2656.8 L405.1 2656.7 L406.6 2656.7 L408.1 2656.7 L409.6 2656.6 L411.1 2656.6 L412.6 2656.5 L414.1 2656.5 L415.6 2656.5 L417.1 2656.4 L418.6 2656.4 L420.0 2656.4 L420.1 2656.4 L421.6 2656.4 L423.1 2656.4 L424.6 2656.3 L426.1 2656.3 L427.6 2656.3 L429.1 2656.3 L430.6 2656.3 L432.1 2656.3 L433.6 2656.3 L435.1 2656.2 L436.6 2656.2 L438.1 2656.2 L439.6 2656.2 L441.1 2656.2 L442.6 2656.2 L444.1 2656.2 L445.6 2656.2 L447.1 2656.2 L447.8 2656.2 L448.6 2656.2 L450.1 2656.2 L451.6 2656.2 L453.1 2656.2 L454.6 2656.1 L456.1 2656.1 L457.6 2656.1 L459.1 2656.1 L460.6 2656.1 L462.1 2656.1 L463.6 2656.1 L465.1 2656.1 L466.6 2656.1 L468.1 2656.1 L469.6 2656.1 L471.1 2656.1 L472.6 2656.1 L474.1 2656.1 L475.6 2656.1 L692.1 2656.1 L693.3 2656.0 L694.8 2725.7 L695.4 2736.7 L696.4 2742.7 L697.1 2745.0 L697.9 2746.4 L699.4 2748.3 L700.9 2749.6 L701.7 2750.2 L702.4 2750.9 L703.9 2752.1 L705.4 2753.3 L706.9 2754.3 L708.4 2755.3 L710.0 2756.3 L711.5 2757.2 L712.1 2757.5 L713.0 2758.0 L714.5 2758.8 L716.0 2759.5 L717.5 2760.2 L719.0 2760.9 L720.5 2761.5 L722.1 2762.1 L722.5 2762.3 L723.6 2762.7 L725.1 2763.2 L726.6 2763.7 L728.1 2764.1 L729.6 2764.6 L731.1 2765.0 L732.6 2765.3 L732.9 2765.4 L734.1 2765.7 L735.7 2766.0 L737.2 2766.4 L738.7 2766.7 L740.2 2767.0 L741.7 2767.2 L743.2 2767.5 L743.3 2767.5 L744.7 2767.7 L746.2 2768.0 L747.7 2768.2 L749.3 2768.4 L750.8 2768.6 L752.3 2768.8 L753.8 2769.0 L753.8 2769.0 L755.3 2769.1 L756.8 2769.3 L758.3 2769.5 L759.8 2769.6 L761.3 2769.8 L762.9 2769.9 L764.2 2770.0 L764.4 2770.0 L765.9 2770.1 L767.4 2770.2 L768.9 2770.3 L770.4 2770.4 L771.9 2770.5 L773.4 2770.5 L775.0 2770.6 L776.5 2770.7 L778.0 2770.8 L779.5 2770.8 L781.0 2770.9 L782.5 2770.9 L784.0 2771.0 L785.0 2771.0 L785.5 2771.1 L787.0 2771.1 L788.6 2771.2 L790.1 2771.2 L791.6 2771.3 L793.1 2771.3 L794.6 2771.4 L796.1 2771.4 L797.6 2771.5 L799.1 2771.5 L800.6 2771.6 L802.2 2771.6 L803.7 2771.6 L805.2 2771.7 L805.8 2771.7 L806.7 2771.7 L808.2 2771.7 L809.7 2771.7 L811.2 2771.8 L812.7 2771.8 L814.2 2771.8 L815.8 2771.8 L817.3 2771.8 L818.8 2771.9 L820.3 2771.9 L821.8 2771.9 L823.3 2771.9 L824.8 2771.9 L826.3 2772.0 L827.9 2772.0 L829.4 2772.0 L830.9 2772.0 L832.4 2772.0 L833.9 2772.0 L835.4 2772.0 L836.9 2772.0 L838.4 2772.1 L839.9 2772.1 L841.5 2772.1 L843.0 2772.1 L844.5 2772.1 L846.0 2772.1 L847.5 2772.1 L1032.5 2772.1 L1033.3 2771.5 L1034.4 2697.2 L1034.8 2682.3 L1035.6 2665.3 L1036.3 2660.5 L1036.4 2660.4 L1037.8 2657.8 L1039.4 2656.2 L1040.8 2654.9 L1040.9 2654.8 L1042.4 2653.2 L1043.9 2651.6 L1045.4 2650.1 L1046.9 2648.7 L1047.8 2647.9 L1048.4 2647.4 L1049.9 2646.3 L1051.4 2645.2 L1052.9 2644.2 L1054.4 2643.2 L1054.7 2643.1 L1055.9 2642.4 L1057.4 2641.6 L1058.9 2640.8 L1060.4 2640.1 L1061.7 2639.6 L1061.9 2639.5 L1063.4 2638.8 L1064.9 2638.2 L1066.5 2637.6 L1068.0 2637.0 L1068.6 2636.8 L1069.5 2636.5 L1071.0 2636.0 L1072.5 2635.6 L1074.0 2635.2 L1075.5 2634.7 L1075.6 2634.7 L1077.0 2634.3 L1078.5 2634.0 L1080.0 2633.6 L1081.5 2633.3 L1082.5 2633.1 L1083.0 2632.9 L1084.5 2632.6 L1086.0 2632.3 L1087.5 2632.0 L1089.0 2631.7 L1089.4 2631.7 L1090.5 2631.5 L1092.0 2631.2 L1093.5 2631.0 L1095.1 2630.8 L1096.4 2630.6 L1096.6 2630.5 L1098.1 2630.3 L1099.6 2630.1 L1101.1 2629.9 L1102.6 2629.7 L1103.3 2629.6 L1104.1 2629.5 L1105.6 2629.3 L1107.1 2629.2 L1108.6 2629.0 L1110.1 2628.9 L1111.6 2628.8 L1113.1 2628.6 L1114.6 2628.5 L1116.1 2628.4 L1117.2 2628.3 L1117.6 2628.3 L1119.1 2628.2 L1120.6 2628.1 L1122.2 2628.0 L1123.7 2628.0 L1125.2 2627.9 L1126.7 2627.8 L1128.2 2627.8 L1129.7 2627.7 L1131.1 2627.6 L1131.2 2627.6 L1132.7 2627.6 L1134.2 2627.5 L1135.7 2627.5 L1137.2 2627.4 L1138.7 2627.4 L1140.2 2627.3 L1141.7 2627.3 L1143.2 2627.3 L1144.7 2627.2 L1145.0 2627.2 L1146.2 2627.2 L1147.7 2627.2 L1149.2 2627.1 L1150.8 2627.1 L1152.3 2627.0 L1153.8 2627.0 L1155.3 2627.0 L1156.8 2627.0 L1158.3 2627.0 L1158.9 2626.9 L1159.8 2626.9 L1161.3 2626.9 L1162.8 2626.9 L1164.3 2626.9 L1165.8 2626.9 L1167.3 2626.9 L1168.8 2626.9 L1170.3 2626.9 L1171.8 2626.9 L1173.3 2626.9 L1174.8 2626.9 L1176.3 2626.8 L1177.8 2626.8 L1179.4 2626.8 L1180.9 2626.8 L1182.4 2626.8 L1183.9 2626.8 L1185.4 2626.8 L1186.7 2626.8 L1186.9 2626.8 L1188.4 2626.8 L1189.9 2626.8 L1191.4 2626.8 L1192.9 2626.8 L1194.4 2626.8 L1195.9 2626.8 L1197.4 2626.8 L1198.9 2626.8 L1200.4 2626.8 L1201.9 2626.7 L1203.4 2626.7 L1204.9 2626.7 L1206.5 2626.7 L1208.0 2626.7 L1209.5 2626.7 L1211.0 2626.7 L1212.5 2626.7 L1214.0 2626.7 L1215.5 2626.7 L1217.0 2626.7 L1218.5 2626.7 L1220.0 2626.7 L1372.9 2626.7 L1373.6 2626.9 L1375.1 2616.1 L1375.3 2614.4 L1376.5 2595.7 L1376.6 2595.3 L1377.4 2593.3 L1378.1 2592.2 L1379.6 2590.6 L1380.8 2589.4 L1381.1 2589.1 L1382.6 2587.3 L1384.1 2585.4 L1385.6 2583.5 L1387.1 2581.8 L1387.8 2581.1 L1388.6 2580.2 L1390.1 2578.8 L1391.7 2577.5 L1393.2 2576.2 L1394.7 2574.9 L1394.7 2574.9 L1396.2 2573.6 L1397.7 2572.4 L1399.2 2571.2 L1400.7 2570.0 L1401.7 2569.3 L1402.2 2569.0 L1403.7 2568.0 L1405.2 2567.1 L1406.7 2566.2 L1408.2 2565.4 L1408.6 2565.1 L1409.7 2564.6 L1411.2 2563.8 L1412.7 2563.0 L1414.2 2562.3 L1415.6 2561.7 L1415.7 2561.6 L1417.2 2560.9 L1418.7 2560.2 L1420.2 2559.6 L1421.7 2558.9 L1422.5 2558.6 L1423.2 2558.3 L1424.7 2557.7 L1426.2 2557.1 L1427.7 2556.5 L1429.2 2555.9 L1429.4 2555.8 L1430.7 2555.3 L1432.2 2554.8 L1433.7 2554.2 L1435.2 2553.7 L1436.4 2553.3 L1436.8 2553.2 L1438.3 2552.7 L1439.8 2552.3 L1441.3 2551.8 L1442.8 2551.4 L1443.3 2551.2 L1444.3 2551.0 L1445.8 2550.6 L1447.3 2550.3 L1448.8 2549.9 L1450.3 2549.6 L1451.8 2549.2 L1453.3 2548.9 L1454.8 2548.6 L1456.3 2548.4 L1457.2 2548.2 L1457.8 2548.1 L1459.3 2547.9 L1460.8 2547.6 L1462.3 2547.4 L1463.8 2547.2 L1465.3 2547.0 L1466.8 2546.9 L1468.3 2546.7 L1469.8 2546.5 L1471.1 2546.4 L1471.3 2546.4 L1472.8 2546.2 L1474.3 2546.1 L1475.8 2546.0 L1477.3 2545.8 L1478.8 2545.7 L1480.4 2545.6 L1481.9 2545.5 L1483.4 2545.4 L1484.9 2545.3 L1485.0 2545.3 L1486.4 2545.2 L1487.9 2545.1 L1489.4 2545.0 L1490.9 2544.9 L1492.4 2544.8 L1493.9 2544.7 L1495.4 2544.6 L1496.9 2544.5 L1498.4 2544.5 L1498.9 2544.4 L1499.9 2544.4 L1501.4 2544.3 L1502.9 2544.3 L1504.4 2544.2 L1505.9 2544.1 L1507.4 2544.1 L1508.9 2544.0 L1510.4 2544.0 L1511.9 2543.9 L1512.8 2543.9 L1513.4 2543.9 L1514.9 2543.8 L1516.4 2543.8 L1517.9 2543.7 L1519.4 2543.7 L1520.9 2543.6 L1522.4 2543.6 L1523.9 2543.5 L1525.5 2543.5 L1526.7 2543.5 L1527.0 2543.5 L1528.5 2543.4 L1530.0 2543.4 L1531.5 2543.4 L1533.0 2543.3 L1534.5 2543.3 L1536.0 2543.3 L1537.5 2543.2 L1539.0 2543.2 L1540.5 2543.2 L1542.0 2543.1 L1543.5 2543.1 L1545.0 2543.1 L1546.5 2543.0 L1548.0 2543.0 L1549.5 2543.0 L1551.0 2543.0 L1552.5 2542.9 L1554.0 2542.9 L1554.4 2542.9 L1555.5 2542.9 L1557.0 2542.9 L1558.5 2542.9 L1560.0 2542.8 L1561.5 2542.8 L1563.0 2542.8 L1564.5 2542.8 L1566.0 2542.8 L1567.5 2542.8 L1569.1 2542.7 L1570.6 2542.7 L1572.1 2542.7 L1573.6 2542.7 L1575.1 2542.7 L1576.6 2542.7 L1578.1 2542.7 L1579.6 2542.7 L1581.1 2542.6 L1582.6 2542.6 L1584.1 2542.6 L1585.6 2542.6 L1587.1 2542.6 L1588.6 2542.6 L1590.1 2542.6 L1591.6 2542.6 L1593.1 2542.6 L1594.6 2542.6 L1596.1 2542.6 L1884.0 2542.5" fill="none" stroke="#0072BD" stroke-width="4.1" stroke-linejoin="round" />
<path d="M182.0 3311.2 L182.2 2860.0 L182.2 2856.7 L183.1 2845.6 L183.7 2838.7 L184.2 2834.4 L185.2 2823.9 L186.7 2809.0 L188.2 2796.3 L188.3 2795.6 L189.7 2786.4 L191.2 2777.8 L192.7 2770.3 L193.9 2765.0 L194.2 2763.5 L195.7 2757.4 L197.2 2751.8 L198.7 2746.6 L200.2 2741.9 L200.8 2740.0 L201.7 2737.4 L203.2 2733.2 L204.7 2729.2 L206.2 2725.5 L207.7 2722.1 L207.8 2721.9 L209.2 2718.7 L210.7 2715.5 L212.2 2712.5 L213.7 2709.8 L214.7 2708.1 L215.2 2707.2 L216.7 2704.9 L218.2 2702.8 L219.7 2700.8 L221.2 2698.9 L221.7 2698.3 L222.7 2697.0 L224.2 2695.3 L225.7 2693.7 L227.2 2692.1 L228.6 2690.7 L228.7 2690.6 L230.2 2689.1 L231.7 2687.7 L233.2 2686.4 L234.7 2685.1 L235.6 2684.4 L236.2 2683.9 L237.7 2682.8 L239.2 2681.7 L240.7 2680.7 L242.2 2679.7 L242.5 2679.6 L243.7 2678.8 L245.2 2678.0 L246.7 2677.2 L248.2 2676.4 L249.4 2675.8 L249.7 2675.7 L251.2 2675.0 L252.7 2674.3 L254.2 2673.6 L255.7 2672.9 L257.2 2672.3 L258.7 2671.6 L260.2 2671.0 L261.7 2670.4 L263.2 2669.9 L263.3 2669.9 L264.7 2669.4 L266.2 2668.9 L267.7 2668.4 L269.2 2667.9 L270.7 2667.4 L272.2 2667.0 L273.7 2666.6 L275.2 2666.2 L276.7 2665.8 L277.2 2665.7 L278.2 2665.5 L279.7 2665.1 L281.2 2664.8 L282.7 2664.5 L284.2 2664.2 L285.7 2663.9 L287.2 2663.6 L288.7 2663.3 L290.2 2663.1 L291.1 2662.9 L291.7 2662.8 L293.2 2662.6 L294.7 2662.3 L296.2 2662.1 L297.7 2661.9 L299.2 2661.6 L300.7 2661.4 L302.2 2661.2 L303.7 2661.0 L305.0 2660.8 L305.2 2660.8 L306.7 2660.6 L308.2 2660.4 L309.7 2660.2 L311.2 2660.0 L312.7 2659.8 L314.2 2659.7 L315.8 2659.5 L317.3 2659.3 L318.8 2659.2 L318.9 2659.2 L320.3 2659.0 L321.8 2658.9 L323.3 2658.8 L324.8 2658.6 L326.3 2658.5 L327.8 2658.4 L329.3 2658.3 L330.8 2658.2 L332.3 2658.1 L332.8 2658.1 L333.8 2658.0 L335.3 2657.9 L336.8 2657.8 L338.3 2657.7 L339.8 2657.6 L341.3 2657.5 L342.8 2657.4 L344.3 2657.3 L345.8 2657.3 L346.7 2657.2 L347.3 2657.2 L348.8 2657.1 L350.3 2657.1 L351.8 2657.0 L353.3 2656.9 L354.8 2656.9 L356.3 2656.8 L357.8 2656.8 L359.3 2656.7 L360.6 2656.7 L360.8 2656.7 L362.3 2656.6 L363.8 2656.6 L365.3 2656.5 L366.8 2656.4 L368.3 2656.4 L369.8 2656.3 L371.3 2656.3 L372.8 2656.2 L374.3 2656.2 L375.8 2656.2 L377.3 2656.1 L378.8 2656.1 L380.0 2656.1 L380.3 2656.1 L381.8 2656.1 L383.3 2656.2 L384.8 2656.3 L386.3 2656.3 L387.8 2656.4 L389.3 2656.5 L390.8 2656.5 L392.2 2656.5 L392.3 2656.5 L393.8 2656.5 L395.3 2656.5 L396.8 2656.5 L398.3 2656.5 L399.8 2656.5 L401.3 2656.5 L402.8 2656.5 L404.3 2656.4 L405.8 2656.4 L407.3 2656.4 L408.8 2656.4 L410.3 2656.4 L411.8 2656.3 L413.3 2656.3 L414.8 2656.3 L416.3 2656.3 L417.8 2656.3 L419.3 2656.3 L420.0 2656.2 L420.8 2656.2 L422.3 2656.2 L423.8 2656.2 L425.3 2656.2 L426.8 2656.2 L428.3 2656.2 L429.8 2656.2 L431.3 2656.2 L432.8 2656.2 L434.3 2656.2 L435.8 2656.2 L437.3 2656.1 L438.8 2656.1 L440.3 2656.1 L441.8 2656.1 L443.3 2656.1 L444.8 2656.1 L446.3 2656.1 L447.8 2656.1 L692.1 2656.1 L692.9 2656.0 L694.4 2745.0 L694.4 2746.1 L695.8 2767.9 L695.9 2768.1 L697.4 2770.3 L698.9 2771.5 L700.4 2772.2 L701.7 2772.7 L701.9 2772.8 L703.4 2773.4 L704.9 2773.9 L706.4 2774.4 L707.9 2774.8 L709.4 2775.1 L710.9 2775.3 L712.1 2775.4 L712.4 2775.4 L713.9 2775.5 L715.4 2775.6 L716.9 2775.7 L718.4 2775.8 L719.9 2775.8 L721.4 2775.8 L722.5 2775.8 L722.9 2775.8 L724.4 2775.8 L725.9 2775.8 L727.4 2775.7 L728.9 2775.7 L730.4 2775.6 L731.9 2775.5 L733.4 2775.4 L734.9 2775.3 L736.4 2775.2 L737.9 2775.1 L739.4 2775.0 L740.9 2774.9 L742.4 2774.8 L743.3 2774.8 L743.9 2774.8 L745.4 2774.7 L746.9 2774.6 L748.4 2774.5 L749.9 2774.4 L751.4 2774.3 L752.9 2774.2 L754.4 2774.1 L756.0 2774.0 L757.5 2773.9 L759.0 2773.8 L760.5 2773.7 L762.0 2773.7 L763.5 2773.6 L764.2 2773.5 L765.0 2773.5 L766.5 2773.4 L768.0 2773.4 L769.5 2773.3 L771.0 2773.2 L772.5 2773.1 L774.0 2773.1 L775.5 2773.0 L777.0 2772.9 L778.5 2772.9 L780.0 2772.8 L781.5 2772.8 L783.0 2772.8 L784.5 2772.7 L785.0 2772.7 L786.0 2772.7 L787.5 2772.7 L789.0 2772.6 L790.5 2772.6 L792.0 2772.6 L793.5 2772.6 L795.0 2772.6 L796.5 2772.6 L798.0 2772.5 L799.5 2772.5 L801.0 2772.5 L802.5 2772.5 L804.0 2772.5 L805.5 2772.5 L807.0 2772.5 L808.5 2772.4 L810.0 2772.4 L811.5 2772.4 L813.0 2772.4 L814.5 2772.4 L816.0 2772.4 L817.5 2772.4 L819.0 2772.4 L820.5 2772.3 L822.0 2772.3 L823.5 2772.3 L825.0 2772.3 L826.5 2772.3 L826.7 2772.3 L828.0 2772.3 L829.5 2772.3 L831.0 2772.2 L832.5 2772.2 L834.0 2772.2 L835.5 2772.2 L837.0 2772.2 L838.5 2772.2 L840.0 2772.2 L841.5 2772.1 L843.0 2772.1 L844.5 2772.1 L846.0 2772.1 L847.5 2772.1 L1032.5 2772.1 L1033.3 2771.5 L1034.2 2669.4 L1034.7 2641.7 L1034.8 2640.5 L1035.6 2636.8 L1036.3 2635.4 L1037.8 2633.8 L1038.1 2633.6 L1039.3 2632.4 L1040.8 2631.2 L1040.8 2631.2 L1042.4 2630.1 L1043.9 2628.9 L1045.4 2627.8 L1046.9 2626.9 L1047.8 2626.4 L1048.4 2626.1 L1049.9 2625.4 L1051.4 2624.9 L1052.9 2624.4 L1054.4 2624.0 L1054.7 2623.9 L1055.9 2623.7 L1057.4 2623.4 L1058.9 2623.1 L1060.4 2623.0 L1061.7 2622.9 L1061.9 2622.9 L1063.4 2622.9 L1064.9 2622.9 L1066.4 2622.9 L1067.9 2622.9 L1069.4 2622.9 L1070.9 2622.9 L1072.4 2622.9 L1073.9 2622.9 L1075.4 2622.9 L1075.6 2622.9 L1076.9 2622.9 L1078.4 2623.0 L1079.9 2623.0 L1081.4 2623.1 L1082.9 2623.2 L1084.4 2623.3 L1085.9 2623.4 L1087.5 2623.5 L1089.0 2623.6 L1089.4 2623.6 L1090.5 2623.7 L1092.0 2623.8 L1093.5 2623.9 L1095.0 2624.0 L1096.5 2624.2 L1098.0 2624.3 L1099.5 2624.4 L1101.0 2624.5 L1102.5 2624.7 L1103.3 2624.7 L1104.0 2624.8 L1105.5 2624.9 L1107.0 2625.0 L1108.5 2625.1 L1110.0 2625.2 L1111.5 2625.2 L1113.0 2625.3 L1114.5 2625.4 L1116.0 2625.5 L1117.2 2625.6 L1117.5 2625.6 L1119.0 2625.6 L1120.5 2625.7 L1122.0 2625.8 L1123.5 2625.8 L1125.0 2625.9 L1126.5 2626.0 L1128.0 2626.0 L1129.5 2626.1 L1131.0 2626.1 L1131.1 2626.1 L1132.5 2626.1 L1134.1 2626.2 L1135.6 2626.2 L1137.1 2626.2 L1138.6 2626.3 L1140.1 2626.3 L1141.6 2626.3 L1143.1 2626.3 L1144.6 2626.4 L1146.1 2626.4 L1147.6 2626.4 L1149.1 2626.4 L1150.6 2626.4 L1152.1 2626.5 L1153.6 2626.5 L1155.1 2626.5 L1156.6 2626.5 L1158.1 2626.5 L1158.9 2626.5 L1159.6 2626.5 L1161.1 2626.5 L1162.6 2626.6 L1164.1 2626.6 L1165.6 2626.6 L1167.1 2626.6 L1168.6 2626.6 L1170.1 2626.6 L1171.6 2626.6 L1173.1 2626.6 L1174.6 2626.6 L1176.1 2626.6 L1177.6 2626.6 L1179.2 2626.7 L1180.7 2626.7 L1182.2 2626.7 L1183.7 2626.7 L1185.2 2626.7 L1186.7 2626.7 L1372.9 2626.7 L1373.5 2626.9 L1374.3 2597.8 L1374.9 2585.6 L1375.0 2585.0 L1376.0 2582.5 L1376.5 2581.5 L1378.0 2579.1 L1378.1 2579.0 L1379.5 2577.2 L1381.0 2575.6 L1382.5 2574.0 L1384.0 2572.6 L1385.5 2571.3 L1387.0 2570.0 L1387.8 2569.3 L1388.5 2568.7 L1390.0 2567.4 L1391.5 2566.1 L1393.0 2565.0 L1394.5 2563.9 L1394.7 2563.8 L1396.0 2562.9 L1397.5 2561.9 L1399.0 2561.0 L1400.5 2560.2 L1401.7 2559.6 L1402.1 2559.4 L1403.6 2558.6 L1405.1 2557.9 L1406.6 2557.2 L1408.1 2556.6 L1408.6 2556.4 L1409.6 2556.0 L1411.1 2555.5 L1412.6 2555.0 L1414.1 2554.5 L1415.6 2554.0 L1415.6 2554.0 L1417.1 2553.5 L1418.6 2553.0 L1420.1 2552.5 L1421.6 2552.0 L1422.5 2551.7 L1423.1 2551.5 L1424.6 2551.0 L1426.1 2550.5 L1427.6 2550.1 L1429.1 2549.7 L1429.4 2549.6 L1430.6 2549.3 L1432.1 2548.8 L1433.6 2548.4 L1435.1 2548.1 L1436.4 2547.8 L1436.7 2547.7 L1438.2 2547.4 L1439.7 2547.1 L1441.2 2546.8 L1442.7 2546.5 L1443.3 2546.4 L1444.2 2546.3 L1445.7 2546.0 L1447.2 2545.8 L1448.7 2545.6 L1450.2 2545.4 L1451.7 2545.3 L1453.2 2545.1 L1454.7 2544.9 L1456.2 2544.8 L1457.2 2544.7 L1457.7 2544.7 L1459.2 2544.6 L1460.7 2544.5 L1462.2 2544.4 L1463.7 2544.3 L1465.2 2544.2 L1466.7 2544.1 L1468.2 2544.0 L1469.7 2544.0 L1471.1 2543.9 L1471.2 2543.9 L1472.8 2543.8 L1474.3 2543.7 L1475.8 2543.7 L1477.3 2543.6 L1478.8 2543.6 L1480.3 2543.5 L1481.8 2543.4 L1483.3 2543.4 L1484.8 2543.3 L1485.0 2543.3 L1486.3 2543.3 L1487.8 2543.2 L1489.3 2543.2 L1490.8 2543.1 L1492.3 2543.1 L1493.8 2543.0 L1495.3 2543.0 L1496.8 2543.0 L1498.3 2542.9 L1498.9 2542.9 L1499.8 2542.9 L1501.3 2542.9 L1502.8 2542.9 L1504.3 2542.8 L1505.8 2542.8 L1507.4 2542.8 L1508.9 2542.8 L1510.4 2542.8 L1511.9 2542.8 L1513.4 2542.7 L1514.9 2542.7 L1516.4 2542.7 L1517.9 2542.7 L1519.4 2542.7 L1520.9 2542.7 L1522.4 2542.7 L1523.9 2542.7 L1525.4 2542.6 L1526.7 2542.6 L1526.9 2542.6 L1528.4 2542.6 L1529.9 2542.6 L1531.4 2542.6 L1532.9 2542.6 L1534.4 2542.6 L1535.9 2542.6 L1537.4 2542.6 L1538.9 2542.6 L1540.4 2542.6 L1541.9 2542.6 L1543.5 2542.5 L1545.0 2542.5 L1546.5 2542.5 L1548.0 2542.5 L1549.5 2542.5 L1551.0 2542.5 L1552.5 2542.5 L1554.0 2542.5 L1555.5 2542.5 L1557.0 2542.5 L1558.5 2542.5 L1560.0 2542.5 L1884.0 2542.5" fill="none" stroke="#D95319" stroke-width="4.1" stroke-linejoin="round" />
<path d="M182.0 3311.2 L182.4 3062.0 L182.5 3059.4 L183.6 3016.4 L184.0 3014.9 L185.5 3012.5 L185.6 3012.5 L187.0 3012.7 L187.6 3012.9 L188.5 3013.8 L189.7 3015.7 L190.0 3016.1 L191.5 3018.1 L193.0 3020.1 L193.9 3021.2 L194.6 3022.1 L196.1 3024.1 L197.6 3026.0 L199.1 3028.0 L200.6 3029.9 L200.8 3030.3 L202.1 3031.9 L203.6 3033.9 L205.1 3035.8 L206.6 3037.8 L207.8 3039.3 L208.1 3039.7 L209.6 3041.7 L211.1 3043.7 L212.6 3045.7 L214.1 3047.6 L214.7 3048.3 L215.6 3049.4 L217.1 3051.2 L218.7 3052.8 L220.2 3054.4 L221.7 3056.0 L221.7 3056.0 L223.2 3057.4 L224.7 3058.9 L226.2 3060.2 L227.7 3061.5 L228.6 3062.2 L229.2 3062.7 L230.7 3063.8 L232.2 3064.9 L233.7 3065.9 L235.2 3066.9 L235.6 3067.1 L236.7 3067.8 L238.2 3068.8 L239.7 3069.7 L241.2 3070.5 L242.5 3071.2 L242.8 3071.4 L244.3 3072.2 L245.8 3073.1 L247.3 3073.9 L248.8 3074.7 L249.4 3075.0 L250.3 3075.4 L251.8 3076.2 L253.3 3076.9 L254.8 3077.6 L256.3 3078.3 L256.4 3078.3 L257.8 3079.0 L259.3 3079.7 L260.8 3080.3 L262.3 3081.0 L263.3 3081.4 L263.8 3081.6 L265.3 3082.2 L266.9 3082.8 L268.4 3083.4 L269.9 3084.0 L271.4 3084.5 L272.9 3085.1 L274.4 3085.6 L275.9 3086.1 L277.2 3086.5 L277.4 3086.6 L278.9 3087.0 L280.4 3087.5 L281.9 3087.9 L283.4 3088.3 L284.9 3088.7 L286.4 3089.1 L287.9 3089.5 L289.4 3089.9 L291.0 3090.2 L291.1 3090.3 L292.5 3090.6 L294.0 3091.0 L295.5 3091.4 L297.0 3091.7 L298.5 3092.1 L300.0 3092.4 L301.5 3092.7 L303.0 3093.1 L304.5 3093.4 L305.0 3093.5 L306.0 3093.7 L307.5 3094.0 L309.0 3094.2 L310.5 3094.5 L312.0 3094.8 L313.5 3095.0 L315.1 3095.2 L316.6 3095.5 L318.1 3095.7 L318.9 3095.8 L319.6 3095.9 L321.1 3096.1 L322.6 3096.4 L324.1 3096.6 L325.6 3096.8 L327.1 3097.0 L328.6 3097.1 L330.1 3097.3 L331.6 3097.5 L332.8 3097.6 L333.1 3097.7 L334.6 3097.8 L336.1 3098.0 L337.6 3098.2 L339.2 3098.3 L340.7 3098.5 L342.2 3098.6 L343.7 3098.8 L345.2 3098.9 L346.7 3099.0 L346.7 3099.0 L348.2 3099.2 L349.7 3099.3 L351.2 3099.4 L352.7 3099.5 L354.2 3099.6 L355.7 3099.7 L357.2 3099.8 L358.7 3099.9 L360.2 3100.0 L360.6 3100.0 L361.7 3100.1 L363.3 3100.2 L364.8 3100.2 L366.3 3100.3 L367.8 3100.4 L369.3 3100.5 L370.8 3100.6 L372.3 3100.6 L373.8 3100.7 L375.3 3100.8 L376.8 3100.8 L378.3 3100.8 L379.8 3100.8 L380.0 3100.8 L381.3 3100.8 L382.8 3100.8 L384.3 3100.8 L385.8 3100.8 L387.4 3100.8 L388.9 3100.8 L390.4 3100.8 L391.9 3100.8 L392.2 3100.8 L393.4 3100.8 L394.9 3100.8 L396.4 3100.8 L397.9 3100.9 L399.4 3100.9 L400.9 3100.9 L402.4 3100.9 L403.9 3100.9 L405.4 3100.9 L406.9 3100.9 L408.4 3101.0 L409.9 3101.0 L411.5 3101.0 L413.0 3101.0 L414.5 3101.1 L416.0 3101.1 L417.5 3101.1 L419.0 3101.1 L420.5 3101.2 L422.0 3101.2 L423.5 3101.2 L425.0 3101.2 L426.5 3101.3 L428.0 3101.3 L429.5 3101.3 L431.0 3101.3 L432.5 3101.4 L434.0 3101.4 L435.6 3101.4 L437.1 3101.4 L438.6 3101.5 L440.1 3101.5 L441.6 3101.5 L443.1 3101.5 L444.6 3101.5 L446.1 3101.5 L447.6 3101.5 L447.8 3101.5 L449.1 3101.5 L450.6 3101.5 L452.1 3101.5 L453.6 3101.6 L455.1 3101.6 L456.6 3101.6 L458.1 3101.6 L459.7 3101.6 L461.2 3101.6 L462.7 3101.6 L464.2 3101.6 L465.7 3101.6 L467.2 3101.6 L468.7 3101.6 L470.2 3101.6 L471.7 3101.6 L473.2 3101.6 L474.7 3101.6 L476.2 3101.6 L477.7 3101.6 L479.2 3101.6 L480.7 3101.6 L482.2 3101.6 L483.8 3101.6 L485.3 3101.6 L486.8 3101.7 L488.3 3101.7 L489.8 3101.7 L491.3 3101.7 L492.8 3101.7 L494.3 3101.7 L495.8 3101.7 L497.3 3101.7 L498.8 3101.7 L500.3 3101.7 L501.8 3101.7 L503.3 3101.7 L692.1 3101.8 L693.1 3102.1 L693.8 3146.2 L694.6 3147.5 L694.6 3147.5 L696.1 3147.3 L697.6 3146.8 L699.1 3146.1 L700.7 3145.5 L701.7 3145.2 L702.2 3145.1 L703.7 3144.8 L705.2 3144.5 L706.7 3144.3 L708.2 3144.1 L709.7 3143.9 L711.2 3143.7 L712.1 3143.5 L712.7 3143.4 L714.2 3143.2 L715.7 3143.0 L717.2 3142.8 L718.7 3142.5 L720.2 3142.3 L721.7 3142.2 L722.5 3142.1 L723.2 3142.0 L724.8 3141.9 L726.3 3141.7 L727.8 3141.6 L729.3 3141.5 L730.8 3141.4 L732.3 3141.3 L732.9 3141.2 L733.8 3141.2 L735.3 3141.1 L736.8 3141.0 L738.3 3140.9 L739.8 3140.8 L741.3 3140.7 L742.8 3140.6 L743.3 3140.6 L744.3 3140.6 L745.8 3140.5 L747.3 3140.5 L748.8 3140.4 L750.4 3140.4 L751.9 3140.3 L753.4 3140.3 L754.9 3140.2 L756.4 3140.2 L757.9 3140.2 L759.4 3140.1 L760.9 3140.1 L762.4 3140.0 L763.9 3140.0 L764.2 3140.0 L765.4 3140.0 L766.9 3139.9 L768.4 3139.9 L769.9 3139.9 L771.4 3139.8 L772.9 3139.8 L774.5 3139.8 L776.0 3139.7 L777.5 3139.7 L779.0 3139.7 L780.5 3139.6 L782.0 3139.6 L783.5 3139.6 L785.0 3139.6 L785.0 3139.6 L786.5 3139.6 L788.0 3139.6 L789.5 3139.5 L791.0 3139.5 L792.5 3139.5 L794.0 3139.5 L795.5 3139.5 L797.0 3139.5 L798.6 3139.5 L800.1 3139.5 L801.6 3139.5 L803.1 3139.5 L804.6 3139.4 L806.1 3139.4 L807.6 3139.4 L809.1 3139.4 L810.6 3139.4 L812.1 3139.4 L813.6 3139.4 L815.1 3139.4 L816.6 3139.4 L818.1 3139.4 L819.6 3139.4 L821.1 3139.4 L822.6 3139.4 L824.2 3139.4 L825.7 3139.4 L827.2 3139.4 L828.7 3139.3 L830.2 3139.3 L831.7 3139.3 L833.2 3139.3 L834.7 3139.3 L836.2 3139.3 L837.7 3139.3 L839.2 3139.3 L840.7 3139.3 L842.2 3139.3 L843.7 3139.3 L845.2 3139.3 L846.7 3139.3 L848.3 3139.3 L849.8 3139.3 L851.3 3139.3 L852.8 3139.3 L854.3 3139.3 L855.8 3139.3 L857.3 3139.3 L858.8 3139.2 L860.3 3139.2 L861.8 3139.2 L863.3 3139.2 L864.8 3139.2 L866.3 3139.2 L867.8 3139.2 L869.3 3139.2 L870.8 3139.2 L872.3 3139.2 L873.9 3139.2 L875.4 3139.2 L876.9 3139.2 L878.4 3139.2 L878.8 3139.2 L879.9 3139.2 L881.4 3139.2 L882.9 3139.1 L884.4 3139.1 L885.9 3139.1 L887.4 3139.1 L888.9 3139.1 L890.4 3139.1 L891.9 3139.1 L893.4 3139.1 L894.9 3139.1 L896.4 3139.1 L898.0 3139.1 L899.5 3139.1 L901.0 3139.0 L902.5 3139.0 L904.0 3139.0 L905.5 3139.0 L907.0 3139.0 L908.5 3139.0 L910.0 3139.0 L1032.5 3139.0 L1033.1 3139.2 L1034.0 3086.7 L1034.6 3084.8 L1035.4 3084.2 L1036.1 3084.2 L1037.7 3084.6 L1039.2 3085.1 L1040.7 3085.6 L1041.7 3085.8 L1042.2 3085.9 L1043.7 3086.2 L1045.2 3086.5 L1046.7 3086.7 L1048.2 3087.0 L1049.7 3087.2 L1051.2 3087.4 L1052.1 3087.5 L1052.8 3087.6 L1054.3 3087.8 L1055.8 3088.0 L1057.3 3088.2 L1058.8 3088.3 L1060.3 3088.5 L1061.8 3088.7 L1062.5 3088.8 L1063.3 3088.8 L1064.8 3089.0 L1066.4 3089.2 L1067.9 3089.3 L1069.4 3089.5 L1070.9 3089.6 L1072.4 3089.7 L1072.9 3089.8 L1073.9 3089.9 L1075.4 3090.0 L1076.9 3090.1 L1078.4 3090.3 L1079.9 3090.4 L1081.5 3090.5 L1083.0 3090.6 L1083.3 3090.6 L1084.5 3090.7 L1086.0 3090.8 L1087.5 3090.8 L1089.0 3090.9 L1090.5 3091.0 L1092.0 3091.0 L1093.5 3091.1 L1095.1 3091.2 L1096.6 3091.2 L1098.1 3091.3 L1099.6 3091.3 L1101.1 3091.4 L1102.6 3091.4 L1104.1 3091.5 L1104.2 3091.5 L1105.6 3091.5 L1107.1 3091.5 L1108.6 3091.6 L1110.2 3091.6 L1111.7 3091.6 L1113.2 3091.7 L1114.7 3091.7 L1116.2 3091.7 L1117.7 3091.8 L1119.2 3091.8 L1120.7 3091.8 L1122.2 3091.8 L1123.8 3091.9 L1125.0 3091.9 L1125.3 3091.9 L1126.8 3091.9 L1128.3 3091.9 L1129.8 3091.9 L1131.3 3092.0 L1132.8 3092.0 L1134.3 3092.0 L1135.8 3092.0 L1137.3 3092.0 L1138.9 3092.0 L1140.4 3092.1 L1141.9 3092.1 L1143.4 3092.1 L1144.9 3092.1 L1146.4 3092.1 L1147.9 3092.1 L1149.4 3092.2 L1150.9 3092.2 L1152.4 3092.2 L1154.0 3092.2 L1155.5 3092.2 L1157.0 3092.2 L1158.5 3092.2 L1160.0 3092.2 L1161.5 3092.3 L1163.0 3092.3 L1164.5 3092.3 L1166.0 3092.3 L1166.7 3092.3 L1167.6 3092.3 L1169.1 3092.3 L1170.6 3092.3 L1172.1 3092.3 L1173.6 3092.3 L1175.1 3092.3 L1176.6 3092.4 L1178.1 3092.4 L1179.6 3092.4 L1181.1 3092.4 L1182.7 3092.4 L1184.2 3092.4 L1185.7 3092.4 L1187.2 3092.4 L1188.7 3092.4 L1190.2 3092.4 L1191.7 3092.4 L1193.2 3092.4 L1194.7 3092.5 L1196.2 3092.5 L1197.8 3092.5 L1199.3 3092.5 L1200.8 3092.5 L1202.3 3092.5 L1203.8 3092.5 L1205.3 3092.5 L1206.8 3092.5 L1208.3 3092.5 L1373.7 3092.5 L1374.6 3152.5 L1376.8 3311.2 L1884.0 3311.2" fill="none" stroke="#EDB120" stroke-width="4.1" stroke-linejoin="round" />
<path d="M182.0 3311.2 L182.5 3104.0 L182.5 3101.1 L183.3 3073.3 L184.0 3063.0 L184.4 3059.4 L185.5 3055.8 L187.0 3052.7 L188.3 3051.1 L188.5 3050.9 L190.0 3049.4 L191.5 3048.2 L193.0 3047.4 L193.9 3047.2 L194.6 3047.1 L196.1 3046.9 L197.6 3046.8 L199.1 3046.7 L200.6 3046.7 L200.8 3046.7 L202.1 3046.7 L203.6 3047.0 L205.1 3047.4 L206.6 3047.9 L207.8 3048.3 L208.1 3048.5 L209.6 3049.2 L211.1 3050.1 L212.6 3051.1 L214.1 3052.1 L214.7 3052.5 L215.6 3053.1 L217.1 3054.1 L218.7 3055.2 L220.2 3056.3 L221.7 3057.4 L221.7 3057.4 L223.2 3058.4 L224.7 3059.5 L226.2 3060.5 L227.7 3061.6 L228.6 3062.2 L229.2 3062.6 L230.7 3063.7 L232.2 3064.8 L233.7 3065.8 L235.2 3066.9 L235.6 3067.1 L236.7 3067.8 L238.2 3068.8 L239.7 3069.7 L241.2 3070.5 L242.5 3071.2 L242.8 3071.4 L244.3 3072.2 L245.8 3073.1 L247.3 3073.9 L248.8 3074.7 L249.4 3075.0 L250.3 3075.4 L251.8 3076.2 L253.3 3076.9 L254.8 3077.6 L256.3 3078.3 L256.4 3078.3 L257.8 3079.0 L259.3 3079.7 L260.8 3080.3 L262.3 3081.0 L263.3 3081.4 L263.8 3081.6 L265.3 3082.2 L266.9 3082.8 L268.4 3083.4 L269.9 3084.0 L271.4 3084.5 L272.9 3085.1 L274.4 3085.6 L275.9 3086.1 L277.2 3086.5 L277.4 3086.6 L278.9 3087.0 L280.4 3087.5 L281.9 3087.9 L283.4 3088.3 L284.9 3088.7 L286.4 3089.1 L287.9 3089.5 L289.4 3089.9 L291.0 3090.2 L291.1 3090.3 L292.5 3090.6 L294.0 3091.0 L295.5 3091.4 L297.0 3091.7 L298.5 3092.1 L300.0 3092.4 L301.5 3092.7 L303.0 3093.1 L304.5 3093.4 L305.0 3093.5 L306.0 3093.7 L307.5 3094.0 L309.0 3094.2 L310.5 3094.5 L312.0 3094.8 L313.5 3095.0 L315.1 3095.2 L316.6 3095.5 L318.1 3095.7 L318.9 3095.8 L319.6 3095.9 L321.1 3096.1 L322.6 3096.4 L324.1 3096.6 L325.6 3096.8 L327.1 3097.0 L328.6 3097.1 L330.1 3097.3 L331.6 3097.5 L332.8 3097.6 L333.1 3097.7 L334.6 3097.8 L336.1 3098.0 L337.6 3098.2 L339.2 3098.3 L340.7 3098.5 L342.2 3098.6 L343.7 3098.8 L345.2 3098.9 L346.7 3099.0 L346.7 3099.0 L348.2 3099.2 L349.7 3099.3 L351.2 3099.4 L352.7 3099.5 L354.2 3099.6 L355.7 3099.7 L357.2 3099.8 L358.7 3099.9 L360.2 3100.0 L360.6 3100.0 L361.7 3100.1 L363.3 3100.2 L364.8 3100.2 L366.3 3100.3 L367.8 3100.4 L369.3 3100.5 L370.8 3100.6 L372.3 3100.6 L373.8 3100.7 L375.3 3100.8 L376.8 3100.8 L378.3 3100.8 L379.8 3100.8 L380.0 3100.8 L381.3 3100.8 L382.8 3100.8 L384.3 3100.8 L385.8 3100.8 L387.4 3100.8 L388.9 3100.8 L390.4 3100.8 L391.9 3100.8 L392.2 3100.8 L393.4 3100.8 L394.9 3100.8 L396.4 3100.8 L397.9 3100.9 L399.4 3100.9 L400.9 3100.9 L402.4 3100.9 L403.9 3100.9 L405.4 3100.9 L406.9 3100.9 L408.4 3101.0 L409.9 3101.0 L411.5 3101.0 L413.0 3101.0 L414.5 3101.1 L416.0 3101.1 L417.5 3101.1 L419.0 3101.1 L420.5 3101.2 L422.0 3101.2 L423.5 3101.2 L425.0 3101.2 L426.5 3101.3 L428.0 3101.3 L429.5 3101.3 L431.0 3101.3 L432.5 3101.4 L434.0 3101.4 L435.6 3101.4 L437.1 3101.4 L438.6 3101.5 L440.1 3101.5 L441.6 3101.5 L443.1 3101.5 L444.6 3101.5 L446.1 3101.5 L447.6 3101.5 L447.8 3101.5 L449.1 3101.5 L450.6 3101.5 L452.1 3101.5 L453.6 3101.6 L455.1 3101.6 L456.6 3101.6 L458.1 3101.6 L459.7 3101.6 L461.2 3101.6 L462.7 3101.6 L464.2 3101.6 L465.7 3101.6 L467.2 3101.6 L468.7 3101.6 L470.2 3101.6 L471.7 3101.6 L473.2 3101.6 L474.7 3101.6 L476.2 3101.6 L477.7 3101.6 L479.2 3101.6 L480.7 3101.6 L482.2 3101.6 L483.8 3101.6 L485.3 3101.6 L486.8 3101.7 L488.3 3101.7 L489.8 3101.7 L491.3 3101.7 L492.8 3101.7 L494.3 3101.7 L495.8 3101.7 L497.3 3101.7 L498.8 3101.7 L500.3 3101.7 L501.8 3101.7 L503.3 3101.7 L692.1 3101.8 L693.1 3102.1 L694.0 3126.5 L694.6 3127.4 L694.8 3127.5 L696.2 3128.2 L697.7 3128.7 L699.2 3129.0 L700.7 3129.4 L701.7 3129.6 L702.2 3129.7 L703.7 3130.1 L705.2 3130.4 L706.7 3130.7 L708.3 3130.9 L709.8 3131.2 L711.3 3131.5 L712.1 3131.7 L712.8 3131.8 L714.3 3132.1 L715.8 3132.5 L717.3 3132.8 L718.9 3133.1 L720.4 3133.4 L721.9 3133.7 L722.5 3133.8 L723.4 3133.9 L724.9 3134.1 L726.4 3134.3 L727.9 3134.5 L729.4 3134.6 L731.0 3134.8 L732.5 3135.0 L732.9 3135.0 L734.0 3135.1 L735.5 3135.3 L737.0 3135.4 L738.5 3135.6 L740.0 3135.7 L741.6 3135.9 L743.1 3136.0 L743.3 3136.0 L744.6 3136.1 L746.1 3136.3 L747.6 3136.4 L749.1 3136.5 L750.6 3136.6 L752.2 3136.8 L753.7 3136.9 L755.2 3137.0 L756.7 3137.1 L758.2 3137.2 L759.7 3137.3 L761.2 3137.4 L762.7 3137.4 L764.2 3137.5 L764.3 3137.5 L765.8 3137.6 L767.3 3137.6 L768.8 3137.7 L770.3 3137.7 L771.8 3137.8 L773.3 3137.8 L774.9 3137.9 L776.4 3137.9 L777.9 3137.9 L779.4 3138.0 L780.9 3138.0 L782.4 3138.1 L783.9 3138.1 L785.0 3138.1 L785.4 3138.1 L787.0 3138.2 L788.5 3138.2 L790.0 3138.2 L791.5 3138.3 L793.0 3138.3 L794.5 3138.4 L796.0 3138.4 L797.6 3138.4 L799.1 3138.5 L800.6 3138.5 L802.1 3138.5 L803.6 3138.6 L805.1 3138.6 L806.6 3138.6 L808.1 3138.6 L809.7 3138.7 L811.2 3138.7 L812.7 3138.7 L814.2 3138.7 L815.7 3138.7 L816.2 3138.8 L817.2 3138.8 L818.7 3138.8 L820.3 3138.8 L821.8 3138.8 L823.3 3138.8 L824.8 3138.8 L826.3 3138.8 L827.8 3138.9 L829.3 3138.9 L830.9 3138.9 L832.4 3138.9 L833.9 3138.9 L835.4 3138.9 L836.9 3138.9 L838.4 3138.9 L839.9 3138.9 L841.4 3138.9 L843.0 3139.0 L844.5 3139.0 L846.0 3139.0 L847.5 3139.0 L1032.5 3139.0 L1033.1 3139.2 L1034.0 3107.5 L1034.6 3105.8 L1034.8 3105.6 L1036.1 3104.8 L1037.6 3104.3 L1039.1 3103.9 L1040.6 3103.6 L1041.7 3103.3 L1042.1 3103.2 L1043.6 3102.8 L1045.1 3102.4 L1046.6 3102.1 L1048.1 3101.7 L1049.6 3101.4 L1051.1 3101.0 L1052.1 3100.8 L1052.6 3100.7 L1054.1 3100.4 L1055.6 3100.1 L1057.1 3099.8 L1058.6 3099.5 L1060.1 3099.2 L1061.6 3098.9 L1062.5 3098.8 L1063.1 3098.6 L1064.6 3098.4 L1066.1 3098.2 L1067.6 3098.0 L1069.1 3097.8 L1070.6 3097.6 L1072.1 3097.4 L1072.9 3097.3 L1073.6 3097.2 L1075.1 3097.0 L1076.6 3096.8 L1078.1 3096.6 L1079.6 3096.4 L1081.1 3096.3 L1082.6 3096.1 L1083.3 3096.0 L1084.1 3096.0 L1085.6 3095.8 L1087.1 3095.7 L1088.6 3095.5 L1090.1 3095.4 L1091.6 3095.3 L1093.1 3095.2 L1094.6 3095.0 L1096.1 3094.9 L1097.6 3094.8 L1099.1 3094.7 L1100.6 3094.6 L1102.1 3094.5 L1103.6 3094.4 L1104.2 3094.4 L1105.1 3094.3 L1106.6 3094.2 L1108.1 3094.1 L1109.6 3094.0 L1111.1 3094.0 L1112.6 3093.9 L1114.2 3093.8 L1115.7 3093.7 L1117.2 3093.6 L1118.7 3093.6 L1120.2 3093.5 L1121.7 3093.4 L1123.2 3093.4 L1124.7 3093.3 L1125.0 3093.3 L1126.2 3093.3 L1127.7 3093.3 L1129.2 3093.2 L1130.7 3093.2 L1132.2 3093.2 L1133.7 3093.1 L1135.2 3093.1 L1136.7 3093.1 L1138.2 3093.0 L1139.7 3093.0 L1141.2 3093.0 L1142.7 3093.0 L1144.2 3092.9 L1145.7 3092.9 L1145.8 3092.9 L1147.2 3092.9 L1148.7 3092.9 L1150.2 3092.8 L1151.7 3092.8 L1153.2 3092.8 L1154.7 3092.8 L1156.2 3092.7 L1157.7 3092.7 L1159.2 3092.7 L1160.7 3092.7 L1162.2 3092.6 L1163.7 3092.6 L1165.2 3092.6 L1166.7 3092.6 L1372.9 3092.5 L1374.0 3092.5 L1375.0 3031.7 L1376.7 3000.0 L1376.9 3000.1 L1378.4 3001.7 L1379.9 3003.3 L1381.4 3004.9 L1382.9 3006.4 L1384.5 3008.0 L1386.0 3009.6 L1387.5 3011.2 L1387.8 3011.5 L1389.0 3012.8 L1390.5 3014.4 L1392.0 3016.0 L1393.5 3017.6 L1394.7 3018.9 L1395.0 3019.1 L1396.5 3020.7 L1398.0 3022.3 L1399.5 3023.9 L1401.0 3025.4 L1401.7 3026.1 L1402.5 3026.9 L1404.0 3028.3 L1405.5 3029.6 L1407.0 3031.0 L1408.5 3032.2 L1408.6 3032.4 L1410.0 3033.5 L1411.5 3034.7 L1413.0 3036.0 L1414.5 3037.1 L1415.6 3037.9 L1416.0 3038.2 L1417.5 3039.3 L1419.0 3040.3 L1420.5 3041.3 L1422.0 3042.2 L1422.5 3042.5 L1423.5 3043.1 L1425.0 3043.9 L1426.5 3044.7 L1428.0 3045.5 L1429.4 3046.2 L1429.5 3046.3 L1431.0 3047.0 L1432.5 3047.7 L1434.0 3048.3 L1435.5 3049.0 L1437.0 3049.6 L1438.5 3050.3 L1440.0 3050.9 L1441.5 3051.4 L1443.0 3052.0 L1443.3 3052.1 L1444.5 3052.5 L1446.0 3053.0 L1447.5 3053.5 L1449.0 3054.0 L1450.5 3054.4 L1452.0 3054.9 L1453.5 3055.3 L1455.0 3055.7 L1456.5 3056.1 L1457.2 3056.2 L1458.0 3056.4 L1459.5 3056.8 L1461.0 3057.1 L1462.5 3057.5 L1464.0 3057.8 L1465.5 3058.1 L1467.0 3058.4 L1468.5 3058.7 L1470.0 3059.0 L1471.1 3059.2 L1471.5 3059.2 L1473.0 3059.5 L1474.5 3059.7 L1476.0 3060.0 L1477.5 3060.2 L1479.0 3060.5 L1480.5 3060.7 L1482.0 3060.9 L1483.5 3061.1 L1485.0 3061.2 L1485.0 3061.3 L1486.5 3061.4 L1488.0 3061.6 L1489.5 3061.7 L1491.0 3061.8 L1492.5 3062.0 L1494.0 3062.1 L1495.5 3062.2 L1497.0 3062.3 L1498.5 3062.5 L1498.9 3062.5 L1500.0 3062.6 L1501.5 3062.7 L1503.0 3062.9 L1504.5 3063.0 L1506.0 3063.1 L1507.5 3063.2 L1509.0 3063.4 L1510.5 3063.5 L1512.0 3063.6 L1512.8 3063.6 L1513.5 3063.7 L1515.0 3063.7 L1516.6 3063.8 L1518.1 3063.9 L1519.6 3064.0 L1521.1 3064.1 L1522.6 3064.1 L1524.1 3064.2 L1525.6 3064.3 L1526.7 3064.3 L1527.1 3064.3 L1528.6 3064.4 L1530.1 3064.4 L1531.6 3064.5 L1533.1 3064.5 L1534.6 3064.6 L1536.1 3064.6 L1537.6 3064.7 L1539.1 3064.7 L1540.6 3064.7 L1542.1 3064.8 L1543.6 3064.8 L1545.1 3064.9 L1546.6 3064.9 L1548.1 3064.9 L1549.6 3065.0 L1551.1 3065.0 L1552.6 3065.0 L1554.1 3065.0 L1555.6 3065.1 L1557.1 3065.1 L1558.6 3065.1 L1560.0 3065.1 L1560.1 3065.1 L1561.6 3065.2 L1563.1 3065.2 L1564.6 3065.2 L1566.1 3065.2 L1567.6 3065.2 L1569.1 3065.3 L1570.6 3065.3 L1572.1 3065.3 L1573.6 3065.3 L1575.1 3065.3 L1576.6 3065.4 L1578.1 3065.4 L1579.6 3065.4 L1581.1 3065.4 L1582.6 3065.4 L1584.1 3065.4 L1585.6 3065.4 L1587.1 3065.4 L1588.6 3065.5 L1590.1 3065.5 L1591.6 3065.5 L1593.1 3065.5 L1594.6 3065.5 L1596.1 3065.5 L1884.0 3065.3" fill="none" stroke="#7E2F8E" stroke-width="4.1" stroke-linejoin="round" />
</g>
<g font-family='"Liberation Serif", serif' font-style="italic" font-size="58.3" fill="#000" stroke="#000" stroke-width="0.5"><line x1="619.7" y1="2435.6" x2="775.7" y2="2435.6" stroke="#0072BD" stroke-width="4.0"/><text x="785.7" y="2456.4">DG1</text><line x1="929.8" y1="2435.6" x2="1085.8" y2="2435.6" stroke="#D95319" stroke-width="4.0"/><text x="1095.8" y="2456.4">DG2</text><line x1="1239.9" y1="2435.6" x2="1395.9" y2="2435.6" stroke="#EDB120" stroke-width="4.0"/><text x="1405.9" y="2456.4">DG3</text><line x1="1550.0" y1="2435.6" x2="1706.0" y2="2435.6" stroke="#7E2F8E" stroke-width="4.0"/><text x="1716.0" y="2456.4">DG4</text></g>
<g font-family='"Liberation Serif", serif' fill="#262626" stroke="#262626" stroke-width="0.9"><text x="183.95" y="2355.5" font-size="50">×</text><text x="217.3" y="2348" font-size="41.67">10</text><text x="259.3" y="2328.9" font-size="32.8">4</text></g>
<text transform="translate(967.80 50.00) scale(0.8904 1)" x="-1.93" y="0" font-family='"Liberation Serif", serif' font-style="italic" font-size="55" fill="#000" stroke="#000" stroke-width="0.4">(A)</text>
<text transform="translate(967.70 1208.75) scale(0.8979 1)" x="-1.93" y="0" font-family='"Liberation Serif", serif' font-style="italic" font-size="55" fill="#000" stroke="#000" stroke-width="0.4">(B)</text>
<text transform="translate(966.70 2339.00) scale(0.8810 1)" x="-1.93" y="0" font-family='"Liberation Serif", serif' font-style="italic" font-size="55" fill="#000" stroke="#000" stroke-width="0.4">(C)</text>
<text x="947.29" y="1141.95" font-family='"Liberation Serif", serif' font-style="italic" font-size="58.3" letter-spacing="-1.501" fill="#262626" stroke="#262626" stroke-width="0.7" stroke-linejoin="round">Time(s)</text>
<text x="957.14" y="2276.70" font-family='"Liberation Serif", serif' font-style="italic" font-size="58.3" letter-spacing="-0.626" fill="#3a3a3a" >Time(s)</text>
<text x="941.59" y="3415.60" font-family='"Liberation Serif", serif' font-style="italic" font-size="58.3" letter-spacing="-1.485" fill="#262626" stroke="#262626" stroke-width="0.7" stroke-linejoin="round">Time(s)</text>
<text transform="translate(53.30 751.90) rotate(-90) scale(0.9671 1)" x="0.31" y="0" font-family='"Liberation Serif", serif' font-style="italic" font-size="58.3" fill="#262626" stroke="#262626" stroke-width="0.7" stroke-linejoin="round">Frequency(rad/s)</text>
<text transform="translate(99.40 1828.90) rotate(-90) scale(0.9245 1)" x="-3.05" y="0" font-family='"Liberation Serif", serif' font-style="italic" font-size="58.3" fill="#262626" stroke="#262626" stroke-width="0.7" stroke-linejoin="round">Voltage(V)</text>
<text transform="translate(102.00 3038.40) rotate(-90)" x="3.19" y="0" font-family='"Liberation Serif", serif' font-style="italic" font-size="58.3" letter-spacing="-0.368" fill="#262626" stroke="#262626" stroke-width="0.7" stroke-linejoin="round">Active power(W)</text>
</svg>
</body></html>
